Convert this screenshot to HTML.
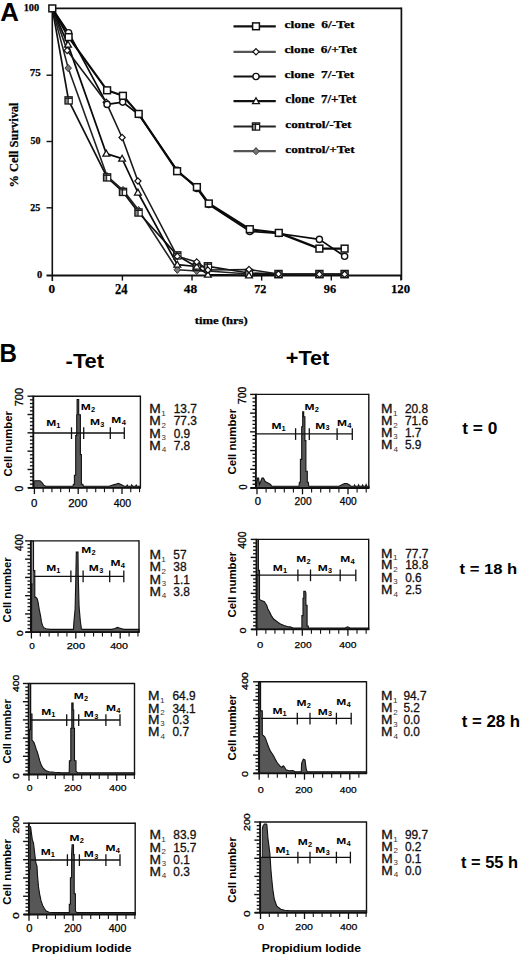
<!DOCTYPE html>
<html><head><meta charset="utf-8"><style>
html,body{margin:0;padding:0;background:#fff;width:520px;height:958px;overflow:hidden}
svg{display:block}
</style></head><body>
<svg width="520" height="958" viewBox="0 0 520 958">
<rect width="520" height="958" fill="#fff"/>
<g stroke="#111" fill="none" stroke-linecap="butt">
<line x1="52.3" y1="8.4" x2="401.4" y2="8.4" stroke-width="1.6"/>
<line x1="401.4" y1="7.6" x2="401.4" y2="280" stroke-width="1.7"/>
<line x1="52.3" y1="8" x2="52.3" y2="281" stroke-width="1.6"/>
<line x1="46.5" y1="275.5" x2="402" y2="275.5" stroke-width="2.2"/>
<line x1="46.5" y1="75.2" x2="52.3" y2="75.2" stroke-width="1.4"/>
<line x1="46.5" y1="141.5" x2="52.3" y2="141.5" stroke-width="1.4"/>
<line x1="46.5" y1="207.8" x2="52.3" y2="207.8" stroke-width="1.4"/>
<line x1="122.40" y1="275.5" x2="122.40" y2="280.6" stroke-width="1.4"/>
<line x1="192.03" y1="275.5" x2="192.03" y2="280.6" stroke-width="1.4"/>
<line x1="261.66" y1="275.5" x2="261.66" y2="280.6" stroke-width="1.4"/>
<line x1="331.29" y1="275.5" x2="331.29" y2="280.6" stroke-width="1.4"/>
<line x1="400.92" y1="275.5" x2="400.92" y2="280.6" stroke-width="1.4"/>
</g>
<text x="0.35" y="21.40" font-family="Liberation Sans" font-weight="bold" font-size="26.33" textLength="18.65" lengthAdjust="spacingAndGlyphs" fill="#000">A</text>
<g stroke="#000" stroke-width="0.25">
<text x="23.67" y="10.60" font-family="Liberation Serif" font-weight="bold" font-size="10.30" textLength="15.52" lengthAdjust="spacingAndGlyphs" fill="#000">100</text>
<text x="29.76" y="76.39" font-family="Liberation Serif" font-weight="bold" font-size="11.13" textLength="11.05" lengthAdjust="spacingAndGlyphs" fill="#000">75</text>
<text x="30.40" y="144.49" font-family="Liberation Serif" font-weight="bold" font-size="10.52" textLength="9.97" lengthAdjust="spacingAndGlyphs" fill="#000">50</text>
<text x="30.38" y="210.70" font-family="Liberation Serif" font-weight="bold" font-size="9.81" textLength="10.00" lengthAdjust="spacingAndGlyphs" fill="#000">25</text>
<text x="37.11" y="277.59" font-family="Liberation Serif" font-weight="bold" font-size="10.67" textLength="5.18" lengthAdjust="spacingAndGlyphs" fill="#000">0</text>
<text x="48.51" y="293.47" font-family="Liberation Serif" font-weight="bold" font-size="12.74" textLength="6.59" lengthAdjust="spacingAndGlyphs" fill="#000">0</text>
<text x="114.97" y="293.60" font-family="Liberation Serif" font-weight="bold" font-size="13.58" textLength="12.55" lengthAdjust="spacingAndGlyphs" fill="#000">24</text>
<text x="183.83" y="293.47" font-family="Liberation Serif" font-weight="bold" font-size="13.33" textLength="13.30" lengthAdjust="spacingAndGlyphs" fill="#000">48</text>
<text x="254.20" y="292.90" font-family="Liberation Serif" font-weight="bold" font-size="12.53" textLength="12.22" lengthAdjust="spacingAndGlyphs" fill="#000">72</text>
<text x="323.86" y="293.17" font-family="Liberation Serif" font-weight="bold" font-size="12.94" textLength="12.31" lengthAdjust="spacingAndGlyphs" fill="#000">96</text>
<text x="390.88" y="292.57" font-family="Liberation Serif" font-weight="bold" font-size="13.19" textLength="19.20" lengthAdjust="spacingAndGlyphs" fill="#000">120</text>
<text transform="translate(18.13,187.48) rotate(-90)" x="0" y="0" font-family="Liberation Serif" font-weight="bold" font-size="13.43" textLength="85.01" lengthAdjust="spacingAndGlyphs" fill="#000">% Cell Survival</text>
<text x="194.81" y="323.94" font-family="Liberation Serif" font-weight="bold" font-size="9.70" textLength="52.93" lengthAdjust="spacingAndGlyphs" fill="#000">time (hrs)</text>
</g>
<line x1="233.5" y1="26.3" x2="275.8" y2="26.3" stroke="#111" stroke-width="2.2"/>
<rect x="252.60" y="22.90" width="6.80" height="6.80" fill="#fff" stroke="#111" stroke-width="1.5"/>
<text x="284.43" y="28.39" font-family="Liberation Serif" font-weight="bold" font-size="10.92" textLength="70.20" lengthAdjust="spacingAndGlyphs" fill="#000" stroke="#000" stroke-width="0.25">clone  6/-Tet</text>
<line x1="233.5" y1="51.8" x2="275.8" y2="51.8" stroke="#555" stroke-width="2.2"/>
<path d="M256.0,48.699999999999996 L259.1,51.8 L256.0,54.9 L252.9,51.8 Z" fill="#fff" stroke="#111" stroke-width="1.2"/>
<text x="284.43" y="53.39" font-family="Liberation Serif" font-weight="bold" font-size="10.92" textLength="72.52" lengthAdjust="spacingAndGlyphs" fill="#000" stroke="#000" stroke-width="0.25">clone  6/+Tet</text>
<line x1="233.5" y1="76.5" x2="275.8" y2="76.5" stroke="#111" stroke-width="2.2"/>
<circle cx="256.0" cy="76.5" r="3.1" fill="#fff" stroke="#111" stroke-width="1.4"/>
<text x="284.43" y="78.39" font-family="Liberation Serif" font-weight="bold" font-size="11.35" textLength="69.80" lengthAdjust="spacingAndGlyphs" fill="#000" stroke="#000" stroke-width="0.25">clone  7/-Tet</text>
<line x1="233.5" y1="101.1" x2="275.8" y2="101.1" stroke="#111" stroke-width="2.2"/>
<path d="M256.0,97.69999999999999 L259.4,103.64999999999999 L252.6,103.64999999999999 Z" fill="#fff" stroke="#111" stroke-width="1.3"/>
<text x="285.34" y="103.39" font-family="Liberation Serif" font-weight="bold" font-size="11.49" textLength="70.91" lengthAdjust="spacingAndGlyphs" fill="#000" stroke="#000" stroke-width="0.25">clone  7/+Tet</text>
<line x1="233.5" y1="126.5" x2="275.8" y2="126.5" stroke="#222" stroke-width="2.2"/>
<rect x="252.40" y="122.90" width="7.20" height="7.20" fill="#8a8a8a" stroke="#1a1a1a" stroke-width="1.3"/><rect x="255.80" y="124.90" width="3.2" height="4.4" fill="#fff"/><path d="M252.40,124.50 H259.60 M255.60,122.90 V130.10" stroke="#1a1a1a" stroke-width="1.0" fill="none"/>
<text x="285.34" y="128.40" font-family="Liberation Serif" font-weight="bold" font-size="10.50" textLength="66.19" lengthAdjust="spacingAndGlyphs" fill="#000" stroke="#000" stroke-width="0.25">control/-Tet</text>
<line x1="233.5" y1="151.2" x2="275.8" y2="151.2" stroke="#555" stroke-width="2.2"/>
<path d="M256.0,147.6 L259.24,151.2 L256.0,154.79999999999998 L252.76,151.2 Z" fill="#777" stroke="#333" stroke-width="1.0"/>
<text x="285.34" y="152.99" font-family="Liberation Serif" font-weight="bold" font-size="10.92" textLength="69.32" lengthAdjust="spacingAndGlyphs" fill="#000" stroke="#000" stroke-width="0.25">control/+Tet</text>
<polyline points="52.3,8.4 68.2,68.1 107.0,176.0 123.0,190.0 138.6,210.0 177.3,269.8 196.7,271.0 207.9,271.0 249.0,274.0 278.5,274.5 319.4,274.5 344.6,274.5" fill="none" stroke="#222" stroke-width="1.6" stroke-linejoin="round"/>
<polyline points="52.3,8.4 68.6,100.4 107.1,177.4 123.0,191.9 138.5,212.5 177.3,255.4 196.7,267.0 207.9,266.3 249.0,273.0 278.5,274.0 319.4,274.0 344.6,274.0" fill="none" stroke="#111" stroke-width="1.7" stroke-linejoin="round"/>
<polyline points="52.3,8.4 68.0,44.6 106.3,153.6 122.1,158.6 137.9,192.5 177.3,264.6 196.7,266.5 207.9,274.6 249.0,275.4 278.5,275.0 319.4,275.0 344.6,275.0" fill="none" stroke="#0a0a0a" stroke-width="1.7" stroke-linejoin="round"/>
<polyline points="52.3,8.4 68.6,32.7 107.1,104.4 122.7,102.1 138.7,114.5 177.1,170.2 196.9,188.5 208.8,204.5 249.8,231.4 278.8,233.5 319.4,239.4 344.6,256.3" fill="none" stroke="#0a0a0a" stroke-width="1.7" stroke-linejoin="round"/>
<polyline points="52.3,8.4 67.2,50.5 106.2,102.3 122.1,137.5 137.9,181.0 177.3,256.3 196.7,261.9 207.9,270.0 249.0,269.5 278.5,274.0 319.4,274.3 344.6,274.3" fill="none" stroke="#1a1a1a" stroke-width="1.6" stroke-linejoin="round"/>
<polyline points="52.3,8.4 68.6,37.1 107.1,90.3 122.9,95.8 138.7,113.9 177.1,171.2 196.9,187.1 208.8,203.5 249.8,229.2 278.8,232.9 319.4,248.6 344.6,248.6" fill="none" stroke="#0a0a0a" stroke-width="2.2" stroke-linejoin="round"/>
<path d="M68.2,64.5 L71.44,68.1 L68.2,71.69999999999999 L64.96000000000001,68.1 Z" fill="#777" stroke="#333" stroke-width="1.0"/>
<path d="M107.0,172.4 L110.24,176.0 L107.0,179.6 L103.76,176.0 Z" fill="#777" stroke="#333" stroke-width="1.0"/>
<path d="M123.0,186.4 L126.24,190.0 L123.0,193.6 L119.76,190.0 Z" fill="#777" stroke="#333" stroke-width="1.0"/>
<path d="M138.6,206.4 L141.84,210.0 L138.6,213.6 L135.35999999999999,210.0 Z" fill="#777" stroke="#333" stroke-width="1.0"/>
<path d="M177.3,266.2 L180.54000000000002,269.8 L177.3,273.40000000000003 L174.06,269.8 Z" fill="#777" stroke="#333" stroke-width="1.0"/>
<path d="M196.7,267.4 L199.94,271.0 L196.7,274.6 L193.45999999999998,271.0 Z" fill="#777" stroke="#333" stroke-width="1.0"/>
<path d="M207.9,267.4 L211.14000000000001,271.0 L207.9,274.6 L204.66,271.0 Z" fill="#777" stroke="#333" stroke-width="1.0"/>
<path d="M249.0,270.4 L252.24,274.0 L249.0,277.6 L245.76,274.0 Z" fill="#777" stroke="#333" stroke-width="1.0"/>
<path d="M278.5,270.9 L281.74,274.5 L278.5,278.1 L275.26,274.5 Z" fill="#777" stroke="#333" stroke-width="1.0"/>
<path d="M319.4,270.9 L322.64,274.5 L319.4,278.1 L316.15999999999997,274.5 Z" fill="#777" stroke="#333" stroke-width="1.0"/>
<path d="M344.6,270.9 L347.84000000000003,274.5 L344.6,278.1 L341.36,274.5 Z" fill="#777" stroke="#333" stroke-width="1.0"/>
<rect x="65.00" y="96.80" width="7.20" height="7.20" fill="#8a8a8a" stroke="#1a1a1a" stroke-width="1.3"/><rect x="68.40" y="98.80" width="3.2" height="4.4" fill="#fff"/><path d="M65.00,98.40 H72.20 M68.20,96.80 V104.00" stroke="#1a1a1a" stroke-width="1.0" fill="none"/>
<rect x="103.50" y="173.80" width="7.20" height="7.20" fill="#8a8a8a" stroke="#1a1a1a" stroke-width="1.3"/><rect x="106.90" y="175.80" width="3.2" height="4.4" fill="#fff"/><path d="M103.50,175.40 H110.70 M106.70,173.80 V181.00" stroke="#1a1a1a" stroke-width="1.0" fill="none"/>
<rect x="119.40" y="188.30" width="7.20" height="7.20" fill="#8a8a8a" stroke="#1a1a1a" stroke-width="1.3"/><rect x="122.80" y="190.30" width="3.2" height="4.4" fill="#fff"/><path d="M119.40,189.90 H126.60 M122.60,188.30 V195.50" stroke="#1a1a1a" stroke-width="1.0" fill="none"/>
<rect x="134.90" y="208.90" width="7.20" height="7.20" fill="#8a8a8a" stroke="#1a1a1a" stroke-width="1.3"/><rect x="138.30" y="210.90" width="3.2" height="4.4" fill="#fff"/><path d="M134.90,210.50 H142.10 M138.10,208.90 V216.10" stroke="#1a1a1a" stroke-width="1.0" fill="none"/>
<rect x="173.70" y="251.80" width="7.20" height="7.20" fill="#8a8a8a" stroke="#1a1a1a" stroke-width="1.3"/><rect x="177.10" y="253.80" width="3.2" height="4.4" fill="#fff"/><path d="M173.70,253.40 H180.90 M176.90,251.80 V259.00" stroke="#1a1a1a" stroke-width="1.0" fill="none"/>
<rect x="193.10" y="263.40" width="7.20" height="7.20" fill="#8a8a8a" stroke="#1a1a1a" stroke-width="1.3"/><rect x="196.50" y="265.40" width="3.2" height="4.4" fill="#fff"/><path d="M193.10,265.00 H200.30 M196.30,263.40 V270.60" stroke="#1a1a1a" stroke-width="1.0" fill="none"/>
<rect x="204.30" y="262.70" width="7.20" height="7.20" fill="#8a8a8a" stroke="#1a1a1a" stroke-width="1.3"/><rect x="207.70" y="264.70" width="3.2" height="4.4" fill="#fff"/><path d="M204.30,264.30 H211.50 M207.50,262.70 V269.90" stroke="#1a1a1a" stroke-width="1.0" fill="none"/>
<rect x="245.40" y="269.40" width="7.20" height="7.20" fill="#8a8a8a" stroke="#1a1a1a" stroke-width="1.3"/><rect x="248.80" y="271.40" width="3.2" height="4.4" fill="#fff"/><path d="M245.40,271.00 H252.60 M248.60,269.40 V276.60" stroke="#1a1a1a" stroke-width="1.0" fill="none"/>
<rect x="274.90" y="270.40" width="7.20" height="7.20" fill="#8a8a8a" stroke="#1a1a1a" stroke-width="1.3"/><rect x="278.30" y="272.40" width="3.2" height="4.4" fill="#fff"/><path d="M274.90,272.00 H282.10 M278.10,270.40 V277.60" stroke="#1a1a1a" stroke-width="1.0" fill="none"/>
<rect x="315.80" y="270.40" width="7.20" height="7.20" fill="#8a8a8a" stroke="#1a1a1a" stroke-width="1.3"/><rect x="319.20" y="272.40" width="3.2" height="4.4" fill="#fff"/><path d="M315.80,272.00 H323.00 M319.00,270.40 V277.60" stroke="#1a1a1a" stroke-width="1.0" fill="none"/>
<rect x="341.00" y="270.40" width="7.20" height="7.20" fill="#8a8a8a" stroke="#1a1a1a" stroke-width="1.3"/><rect x="344.40" y="272.40" width="3.2" height="4.4" fill="#fff"/><path d="M341.00,272.00 H348.20 M344.20,270.40 V277.60" stroke="#1a1a1a" stroke-width="1.0" fill="none"/>
<path d="M68.0,41.2 L71.4,47.15 L64.6,47.15 Z" fill="#fff" stroke="#111" stroke-width="1.3"/>
<path d="M106.3,150.2 L109.7,156.15 L102.89999999999999,156.15 Z" fill="#fff" stroke="#111" stroke-width="1.3"/>
<path d="M122.1,155.2 L125.5,161.15 L118.69999999999999,161.15 Z" fill="#fff" stroke="#111" stroke-width="1.3"/>
<path d="M137.9,189.1 L141.3,195.05 L134.5,195.05 Z" fill="#fff" stroke="#111" stroke-width="1.3"/>
<path d="M177.3,261.20000000000005 L180.70000000000002,267.15000000000003 L173.9,267.15000000000003 Z" fill="#fff" stroke="#111" stroke-width="1.3"/>
<path d="M196.7,263.1 L200.1,269.05 L193.29999999999998,269.05 Z" fill="#fff" stroke="#111" stroke-width="1.3"/>
<path d="M207.9,271.20000000000005 L211.3,277.15000000000003 L204.5,277.15000000000003 Z" fill="#fff" stroke="#111" stroke-width="1.3"/>
<path d="M249.0,272.0 L252.4,277.95 L245.6,277.95 Z" fill="#fff" stroke="#111" stroke-width="1.3"/>
<path d="M278.5,271.6 L281.9,277.55 L275.1,277.55 Z" fill="#fff" stroke="#111" stroke-width="1.3"/>
<path d="M319.4,271.6 L322.79999999999995,277.55 L316.0,277.55 Z" fill="#fff" stroke="#111" stroke-width="1.3"/>
<path d="M344.6,271.6 L348.0,277.55 L341.20000000000005,277.55 Z" fill="#fff" stroke="#111" stroke-width="1.3"/>
<path d="M67.2,47.4 L70.3,50.5 L67.2,53.6 L64.10000000000001,50.5 Z" fill="#fff" stroke="#111" stroke-width="1.2"/>
<path d="M106.2,99.2 L109.3,102.3 L106.2,105.39999999999999 L103.10000000000001,102.3 Z" fill="#fff" stroke="#111" stroke-width="1.2"/>
<path d="M122.1,134.4 L125.19999999999999,137.5 L122.1,140.6 L119.0,137.5 Z" fill="#fff" stroke="#111" stroke-width="1.2"/>
<path d="M137.9,177.9 L141.0,181.0 L137.9,184.1 L134.8,181.0 Z" fill="#fff" stroke="#111" stroke-width="1.2"/>
<path d="M177.3,253.20000000000002 L180.4,256.3 L177.3,259.40000000000003 L174.20000000000002,256.3 Z" fill="#fff" stroke="#111" stroke-width="1.2"/>
<path d="M196.7,258.79999999999995 L199.79999999999998,261.9 L196.7,265.0 L193.6,261.9 Z" fill="#fff" stroke="#111" stroke-width="1.2"/>
<path d="M207.9,266.9 L211.0,270.0 L207.9,273.1 L204.8,270.0 Z" fill="#fff" stroke="#111" stroke-width="1.2"/>
<path d="M249.0,266.4 L252.1,269.5 L249.0,272.6 L245.9,269.5 Z" fill="#fff" stroke="#111" stroke-width="1.2"/>
<path d="M278.5,270.9 L281.6,274.0 L278.5,277.1 L275.4,274.0 Z" fill="#fff" stroke="#111" stroke-width="1.2"/>
<path d="M319.4,271.2 L322.5,274.3 L319.4,277.40000000000003 L316.29999999999995,274.3 Z" fill="#fff" stroke="#111" stroke-width="1.2"/>
<path d="M344.6,271.2 L347.70000000000005,274.3 L344.6,277.40000000000003 L341.5,274.3 Z" fill="#fff" stroke="#111" stroke-width="1.2"/>
<circle cx="68.6" cy="32.7" r="3.1" fill="#fff" stroke="#111" stroke-width="1.4"/>
<circle cx="107.1" cy="104.4" r="3.1" fill="#fff" stroke="#111" stroke-width="1.4"/>
<circle cx="122.7" cy="102.1" r="3.1" fill="#fff" stroke="#111" stroke-width="1.4"/>
<circle cx="138.7" cy="114.5" r="3.1" fill="#fff" stroke="#111" stroke-width="1.4"/>
<circle cx="177.1" cy="170.2" r="3.1" fill="#fff" stroke="#111" stroke-width="1.4"/>
<circle cx="196.9" cy="188.5" r="3.1" fill="#fff" stroke="#111" stroke-width="1.4"/>
<circle cx="208.8" cy="204.5" r="3.1" fill="#fff" stroke="#111" stroke-width="1.4"/>
<circle cx="249.8" cy="231.4" r="3.1" fill="#fff" stroke="#111" stroke-width="1.4"/>
<circle cx="278.8" cy="233.5" r="3.1" fill="#fff" stroke="#111" stroke-width="1.4"/>
<circle cx="319.4" cy="239.4" r="3.1" fill="#fff" stroke="#111" stroke-width="1.4"/>
<circle cx="344.6" cy="256.3" r="3.1" fill="#fff" stroke="#111" stroke-width="1.4"/>
<rect x="65.20" y="33.70" width="6.80" height="6.80" fill="#fff" stroke="#111" stroke-width="1.5"/>
<rect x="103.70" y="86.90" width="6.80" height="6.80" fill="#fff" stroke="#111" stroke-width="1.5"/>
<rect x="119.50" y="92.40" width="6.80" height="6.80" fill="#fff" stroke="#111" stroke-width="1.5"/>
<rect x="135.30" y="110.50" width="6.80" height="6.80" fill="#fff" stroke="#111" stroke-width="1.5"/>
<rect x="173.70" y="167.80" width="6.80" height="6.80" fill="#fff" stroke="#111" stroke-width="1.5"/>
<rect x="193.50" y="183.70" width="6.80" height="6.80" fill="#fff" stroke="#111" stroke-width="1.5"/>
<rect x="205.40" y="200.10" width="6.80" height="6.80" fill="#fff" stroke="#111" stroke-width="1.5"/>
<rect x="246.40" y="225.80" width="6.80" height="6.80" fill="#fff" stroke="#111" stroke-width="1.5"/>
<rect x="275.40" y="229.50" width="6.80" height="6.80" fill="#fff" stroke="#111" stroke-width="1.5"/>
<rect x="316.00" y="245.20" width="6.80" height="6.80" fill="#fff" stroke="#111" stroke-width="1.5"/>
<rect x="341.20" y="245.20" width="6.80" height="6.80" fill="#fff" stroke="#111" stroke-width="1.5"/>
<rect x="48.90" y="5.00" width="6.80" height="6.80" fill="#fff" stroke="#111" stroke-width="1.5"/>
<text x="-0.48" y="361.50" font-family="Liberation Sans" font-weight="bold" font-size="25.82" textLength="17.46" lengthAdjust="spacingAndGlyphs" fill="#000">B</text>
<text x="65.63" y="367.69" font-family="Liberation Sans" font-weight="bold" font-size="21.08" textLength="38.43" lengthAdjust="spacingAndGlyphs" fill="#000">-Tet</text>
<text x="285.78" y="365.19" font-family="Liberation Sans" font-weight="bold" font-size="20.65" textLength="43.49" lengthAdjust="spacingAndGlyphs" fill="#000">+Tet</text>
<text x="462.18" y="434.33" font-family="Liberation Sans" font-weight="bold" font-size="16.54" textLength="35.13" lengthAdjust="spacingAndGlyphs" fill="#000">t = 0</text>
<text x="459.49" y="574.06" font-family="Liberation Sans" font-weight="bold" font-size="14.01" textLength="57.73" lengthAdjust="spacingAndGlyphs" fill="#000">t = 18 h</text>
<text x="461.69" y="727.44" font-family="Liberation Sans" font-weight="bold" font-size="15.78" textLength="58.34" lengthAdjust="spacingAndGlyphs" fill="#000">t = 28 h</text>
<text x="461.00" y="868.23" font-family="Liberation Sans" font-weight="bold" font-size="16.60" textLength="56.91" lengthAdjust="spacingAndGlyphs" fill="#000">t = 55 h</text>
<text x="31.67" y="952.22" font-family="Liberation Sans" font-weight="bold" font-size="10.99" textLength="100.00" lengthAdjust="spacingAndGlyphs" fill="#000">Propidium Iodide</text>
<text x="261.68" y="952.11" font-family="Liberation Sans" font-weight="bold" font-size="11.53" textLength="99.24" lengthAdjust="spacingAndGlyphs" fill="#000">Propidium Iodide</text>
<polygon points="33.8,487.8 33.8,481.5 35.0,480.7 40.0,480.7 42.0,482.5 44.0,485.5 46.0,486.2 73.0,486.2 73.4,484.2 74.4,484.2 74.4,475.3 75.7,475.3 75.7,435.6 76.7,435.6 76.7,414.8 77.1,414.8 77.1,399.5 78.7,399.5 78.7,414.8 80.4,414.8 80.4,454.5 81.4,454.5 81.4,484.2 82.8,484.2 83.5,486.2 109.2,486.2 112.0,485.2 115.0,484.4 118.4,483.3 121.0,484.5 124.2,486.2 126.5,486.2 127.2,485.0 128.0,486.2 131.0,486.2 131.7,484.8 132.5,486.2 135.5,486.2 136.2,485.0 137.0,486.2 140.4,486.2 140.4,487.8" fill="#575757" stroke="#111" stroke-width="1.1" stroke-linejoin="miter"/>
<g stroke="#111" fill="none">
<line x1="33.3" y1="396.2" x2="140.4" y2="396.2" stroke-width="1.4"/>
<line x1="140.4" y1="395.59999999999997" x2="140.4" y2="487.8" stroke-width="1.4"/>
<line x1="33.3" y1="395.59999999999997" x2="33.3" y2="488.6" stroke-width="1.9"/>
<line x1="27.999999999999996" y1="487.8" x2="141.0" y2="487.8" stroke-width="1.8"/>
<line x1="27.499999999999996" y1="487.80" x2="33.3" y2="487.80" stroke-width="1.4"/>
<line x1="29.9" y1="484.14" x2="33.3" y2="484.14" stroke-width="1.35"/>
<line x1="29.9" y1="480.47" x2="33.3" y2="480.47" stroke-width="1.35"/>
<line x1="29.9" y1="476.81" x2="33.3" y2="476.81" stroke-width="1.35"/>
<line x1="29.9" y1="473.14" x2="33.3" y2="473.14" stroke-width="1.35"/>
<line x1="27.499999999999996" y1="469.48" x2="33.3" y2="469.48" stroke-width="1.4"/>
<line x1="29.9" y1="465.82" x2="33.3" y2="465.82" stroke-width="1.35"/>
<line x1="29.9" y1="462.15" x2="33.3" y2="462.15" stroke-width="1.35"/>
<line x1="29.9" y1="458.49" x2="33.3" y2="458.49" stroke-width="1.35"/>
<line x1="29.9" y1="454.82" x2="33.3" y2="454.82" stroke-width="1.35"/>
<line x1="27.499999999999996" y1="451.16" x2="33.3" y2="451.16" stroke-width="1.4"/>
<line x1="29.9" y1="447.50" x2="33.3" y2="447.50" stroke-width="1.35"/>
<line x1="29.9" y1="443.83" x2="33.3" y2="443.83" stroke-width="1.35"/>
<line x1="29.9" y1="440.17" x2="33.3" y2="440.17" stroke-width="1.35"/>
<line x1="29.9" y1="436.50" x2="33.3" y2="436.50" stroke-width="1.35"/>
<line x1="27.499999999999996" y1="432.84" x2="33.3" y2="432.84" stroke-width="1.4"/>
<line x1="29.9" y1="429.18" x2="33.3" y2="429.18" stroke-width="1.35"/>
<line x1="29.9" y1="425.51" x2="33.3" y2="425.51" stroke-width="1.35"/>
<line x1="29.9" y1="421.85" x2="33.3" y2="421.85" stroke-width="1.35"/>
<line x1="29.9" y1="418.18" x2="33.3" y2="418.18" stroke-width="1.35"/>
<line x1="27.499999999999996" y1="414.52" x2="33.3" y2="414.52" stroke-width="1.4"/>
<line x1="29.9" y1="410.86" x2="33.3" y2="410.86" stroke-width="1.35"/>
<line x1="29.9" y1="407.19" x2="33.3" y2="407.19" stroke-width="1.35"/>
<line x1="29.9" y1="403.53" x2="33.3" y2="403.53" stroke-width="1.35"/>
<line x1="29.9" y1="399.86" x2="33.3" y2="399.86" stroke-width="1.35"/>
<line x1="27.499999999999996" y1="396.20" x2="33.3" y2="396.20" stroke-width="1.4"/>
<line x1="34.40" y1="487.8" x2="34.40" y2="494.1" stroke-width="1.3"/>
<line x1="43.16" y1="487.8" x2="43.16" y2="492.2" stroke-width="1.1"/>
<line x1="51.92" y1="487.8" x2="51.92" y2="492.2" stroke-width="1.1"/>
<line x1="60.68" y1="487.8" x2="60.68" y2="492.2" stroke-width="1.1"/>
<line x1="69.44" y1="487.8" x2="69.44" y2="492.2" stroke-width="1.1"/>
<line x1="78.20" y1="487.8" x2="78.20" y2="494.1" stroke-width="1.3"/>
<line x1="86.96" y1="487.8" x2="86.96" y2="492.2" stroke-width="1.1"/>
<line x1="95.72" y1="487.8" x2="95.72" y2="492.2" stroke-width="1.1"/>
<line x1="104.48" y1="487.8" x2="104.48" y2="492.2" stroke-width="1.1"/>
<line x1="113.24" y1="487.8" x2="113.24" y2="492.2" stroke-width="1.1"/>
<line x1="122.00" y1="487.8" x2="122.00" y2="494.1" stroke-width="1.3"/>
<line x1="130.76" y1="487.8" x2="130.76" y2="492.2" stroke-width="1.1"/>
<line x1="139.52" y1="487.8" x2="139.52" y2="492.2" stroke-width="1.1"/>
<line x1="33.3" y1="433.0" x2="124.3" y2="433.0" stroke-width="1.3"/>
<line x1="71.5" y1="427.3" x2="71.5" y2="439.0" stroke-width="1.3"/>
<line x1="83.7" y1="427.3" x2="83.7" y2="439.0" stroke-width="1.3"/>
<line x1="110.3" y1="427.3" x2="110.3" y2="439.0" stroke-width="1.3"/>
<line x1="124.3" y1="427.3" x2="124.3" y2="439.0" stroke-width="1.3"/>
</g>
<text x="46.19" y="426.40" font-family="Liberation Sans" font-weight="bold" font-size="9.75" textLength="10.00" lengthAdjust="spacingAndGlyphs" fill="#000">M</text><text x="56.23" y="428.40" font-family="Liberation Sans" font-weight="bold" font-size="6.84" textLength="4.18" lengthAdjust="spacingAndGlyphs" fill="#000">1</text>
<text x="80.69" y="410.20" font-family="Liberation Sans" font-weight="bold" font-size="9.75" textLength="10.00" lengthAdjust="spacingAndGlyphs" fill="#000">M</text><text x="90.94" y="412.20" font-family="Liberation Sans" font-weight="bold" font-size="6.74" textLength="4.12" lengthAdjust="spacingAndGlyphs" fill="#000">2</text>
<text x="89.99" y="425.40" font-family="Liberation Sans" font-weight="bold" font-size="9.75" textLength="10.00" lengthAdjust="spacingAndGlyphs" fill="#000">M</text><text x="100.34" y="427.32" font-family="Liberation Sans" font-weight="bold" font-size="6.62" textLength="4.05" lengthAdjust="spacingAndGlyphs" fill="#000">3</text>
<text x="111.29" y="422.70" font-family="Liberation Sans" font-weight="bold" font-size="9.75" textLength="10.00" lengthAdjust="spacingAndGlyphs" fill="#000">M</text><text x="121.69" y="424.70" font-family="Liberation Sans" font-weight="bold" font-size="6.84" textLength="4.18" lengthAdjust="spacingAndGlyphs" fill="#000">4</text>
<text transform="translate(11.59,476.55) rotate(-90)" x="0" y="0" font-family="Liberation Sans" font-weight="bold" font-size="10.75" textLength="65.41" lengthAdjust="spacingAndGlyphs" fill="#000">Cell number</text>
<text stroke="#000" stroke-width="0.3" transform="translate(22.59,406.25) rotate(-90)" x="0" y="0" font-family="Liberation Sans" font-weight="normal" font-size="10.74" textLength="18.27" lengthAdjust="spacingAndGlyphs" fill="#000">700</text>
<text stroke="#000" stroke-width="0.3" transform="translate(22.60,491.42) rotate(-90)" x="0" y="0" font-family="Liberation Sans" font-weight="normal" font-size="10.04" textLength="5.82" lengthAdjust="spacingAndGlyphs" fill="#000">0</text>
<text x="31.04" y="506.69" font-family="Liberation Sans" font-weight="normal" font-size="11.17" textLength="6.41" lengthAdjust="spacingAndGlyphs" fill="#000" stroke="#000" stroke-width="0.25">0</text>
<text x="68.23" y="506.69" font-family="Liberation Sans" font-weight="normal" font-size="11.17" textLength="19.11" lengthAdjust="spacingAndGlyphs" fill="#000" stroke="#000" stroke-width="0.25">200</text>
<text x="113.66" y="506.69" font-family="Liberation Sans" font-weight="normal" font-size="11.17" textLength="17.54" lengthAdjust="spacingAndGlyphs" fill="#000" stroke="#000" stroke-width="0.25">400</text>
<text x="149.36" y="413.20" font-family="Liberation Sans" font-weight="normal" font-size="12.65" textLength="11.48" lengthAdjust="spacingAndGlyphs" fill="#111" stroke="#111" stroke-width="0.3">M</text><text x="161.29" y="415.60" font-family="Liberation Sans" font-weight="normal" font-size="7.71" textLength="4.50" lengthAdjust="spacingAndGlyphs" fill="#333">1</text><text stroke="#111" stroke-width="0.3" x="173.70" y="413.20" font-family="Liberation Sans" font-weight="normal" font-size="11.90" text-anchor="start" fill="#111">13.7</text><text x="149.36" y="425.30" font-family="Liberation Sans" font-weight="normal" font-size="12.65" textLength="11.48" lengthAdjust="spacingAndGlyphs" fill="#111" stroke="#111" stroke-width="0.3">M</text><text x="161.50" y="427.70" font-family="Liberation Sans" font-weight="normal" font-size="7.60" textLength="4.44" lengthAdjust="spacingAndGlyphs" fill="#333">2</text><text stroke="#111" stroke-width="0.3" x="173.70" y="425.30" font-family="Liberation Sans" font-weight="normal" font-size="11.90" text-anchor="start" fill="#111">77.3</text><text x="149.36" y="437.60" font-family="Liberation Sans" font-weight="normal" font-size="12.65" textLength="11.48" lengthAdjust="spacingAndGlyphs" fill="#111" stroke="#111" stroke-width="0.3">M</text><text x="161.61" y="439.93" font-family="Liberation Sans" font-weight="normal" font-size="7.49" textLength="4.37" lengthAdjust="spacingAndGlyphs" fill="#333">3</text><text stroke="#111" stroke-width="0.3" x="173.70" y="437.60" font-family="Liberation Sans" font-weight="normal" font-size="11.90" text-anchor="start" fill="#111">0.9</text><text x="149.36" y="449.50" font-family="Liberation Sans" font-weight="normal" font-size="12.65" textLength="11.48" lengthAdjust="spacingAndGlyphs" fill="#111" stroke="#111" stroke-width="0.3">M</text><text x="161.72" y="451.90" font-family="Liberation Sans" font-weight="normal" font-size="7.71" textLength="4.50" lengthAdjust="spacingAndGlyphs" fill="#333">4</text><text stroke="#111" stroke-width="0.3" x="173.70" y="449.50" font-family="Liberation Sans" font-weight="normal" font-size="11.90" text-anchor="start" fill="#111">7.8</text>
<polygon points="256.4,488.0 256.4,484.0 257.6,478.1 258.6,478.1 259.4,484.5 260.5,482.0 262.0,478.1 263.4,478.1 265.2,481.5 267.5,482.7 270.2,484.2 272.1,486.3 299.0,486.3 299.4,482.2 300.4,482.2 300.4,459.4 301.7,459.4 301.7,426.7 302.7,426.7 302.7,411.8 303.7,411.8 303.7,416.8 304.9,416.8 304.9,440.6 305.9,440.6 305.9,471.3 307.3,471.3 307.3,482.2 308.3,482.2 308.8,486.3 339.0,486.3 342.0,484.8 344.5,483.5 347.0,483.5 349.5,485.0 351.0,486.3 354.0,486.3 354.6,485.0 355.3,486.3 358.0,486.3 358.6,484.8 359.3,486.3 362.0,486.3 362.6,485.0 363.3,486.3 365.5,486.3 366.1,484.6 366.8,486.3 368.8,486.3 368.8,488.2" fill="#575757" stroke="#111" stroke-width="1.1" stroke-linejoin="miter"/>
<g stroke="#111" fill="none">
<line x1="255.9" y1="394.4" x2="368.8" y2="394.4" stroke-width="1.4"/>
<line x1="368.8" y1="393.79999999999995" x2="368.8" y2="488.0" stroke-width="1.4"/>
<line x1="255.9" y1="393.79999999999995" x2="255.9" y2="488.8" stroke-width="1.9"/>
<line x1="250.6" y1="488.0" x2="369.40000000000003" y2="488.0" stroke-width="1.8"/>
<line x1="250.1" y1="488.00" x2="255.9" y2="488.00" stroke-width="1.4"/>
<line x1="252.5" y1="484.26" x2="255.9" y2="484.26" stroke-width="1.35"/>
<line x1="252.5" y1="480.51" x2="255.9" y2="480.51" stroke-width="1.35"/>
<line x1="252.5" y1="476.77" x2="255.9" y2="476.77" stroke-width="1.35"/>
<line x1="252.5" y1="473.02" x2="255.9" y2="473.02" stroke-width="1.35"/>
<line x1="250.1" y1="469.28" x2="255.9" y2="469.28" stroke-width="1.4"/>
<line x1="252.5" y1="465.54" x2="255.9" y2="465.54" stroke-width="1.35"/>
<line x1="252.5" y1="461.79" x2="255.9" y2="461.79" stroke-width="1.35"/>
<line x1="252.5" y1="458.05" x2="255.9" y2="458.05" stroke-width="1.35"/>
<line x1="252.5" y1="454.30" x2="255.9" y2="454.30" stroke-width="1.35"/>
<line x1="250.1" y1="450.56" x2="255.9" y2="450.56" stroke-width="1.4"/>
<line x1="252.5" y1="446.82" x2="255.9" y2="446.82" stroke-width="1.35"/>
<line x1="252.5" y1="443.07" x2="255.9" y2="443.07" stroke-width="1.35"/>
<line x1="252.5" y1="439.33" x2="255.9" y2="439.33" stroke-width="1.35"/>
<line x1="252.5" y1="435.58" x2="255.9" y2="435.58" stroke-width="1.35"/>
<line x1="250.1" y1="431.84" x2="255.9" y2="431.84" stroke-width="1.4"/>
<line x1="252.5" y1="428.10" x2="255.9" y2="428.10" stroke-width="1.35"/>
<line x1="252.5" y1="424.35" x2="255.9" y2="424.35" stroke-width="1.35"/>
<line x1="252.5" y1="420.61" x2="255.9" y2="420.61" stroke-width="1.35"/>
<line x1="252.5" y1="416.86" x2="255.9" y2="416.86" stroke-width="1.35"/>
<line x1="250.1" y1="413.12" x2="255.9" y2="413.12" stroke-width="1.4"/>
<line x1="252.5" y1="409.38" x2="255.9" y2="409.38" stroke-width="1.35"/>
<line x1="252.5" y1="405.63" x2="255.9" y2="405.63" stroke-width="1.35"/>
<line x1="252.5" y1="401.89" x2="255.9" y2="401.89" stroke-width="1.35"/>
<line x1="252.5" y1="398.14" x2="255.9" y2="398.14" stroke-width="1.35"/>
<line x1="250.1" y1="394.40" x2="255.9" y2="394.40" stroke-width="1.4"/>
<line x1="257.00" y1="488.0" x2="257.00" y2="494.3" stroke-width="1.3"/>
<line x1="266.10" y1="488.0" x2="266.10" y2="492.4" stroke-width="1.1"/>
<line x1="275.20" y1="488.0" x2="275.20" y2="492.4" stroke-width="1.1"/>
<line x1="284.30" y1="488.0" x2="284.30" y2="492.4" stroke-width="1.1"/>
<line x1="293.40" y1="488.0" x2="293.40" y2="492.4" stroke-width="1.1"/>
<line x1="302.50" y1="488.0" x2="302.50" y2="494.3" stroke-width="1.3"/>
<line x1="311.60" y1="488.0" x2="311.60" y2="492.4" stroke-width="1.1"/>
<line x1="320.70" y1="488.0" x2="320.70" y2="492.4" stroke-width="1.1"/>
<line x1="329.80" y1="488.0" x2="329.80" y2="492.4" stroke-width="1.1"/>
<line x1="338.90" y1="488.0" x2="338.90" y2="492.4" stroke-width="1.1"/>
<line x1="348.00" y1="488.0" x2="348.00" y2="494.3" stroke-width="1.3"/>
<line x1="357.10" y1="488.0" x2="357.10" y2="492.4" stroke-width="1.1"/>
<line x1="366.20" y1="488.0" x2="366.20" y2="492.4" stroke-width="1.1"/>
<line x1="255.9" y1="433.9" x2="352.3" y2="433.9" stroke-width="1.3"/>
<line x1="295.6" y1="428.2" x2="295.6" y2="439.9" stroke-width="1.3"/>
<line x1="309.3" y1="428.2" x2="309.3" y2="439.9" stroke-width="1.3"/>
<line x1="337.1" y1="428.2" x2="337.1" y2="439.9" stroke-width="1.3"/>
<line x1="352.3" y1="428.2" x2="352.3" y2="439.9" stroke-width="1.3"/>
</g>
<text x="271.49" y="428.50" font-family="Liberation Sans" font-weight="bold" font-size="9.75" textLength="10.00" lengthAdjust="spacingAndGlyphs" fill="#000">M</text><text x="281.53" y="430.50" font-family="Liberation Sans" font-weight="bold" font-size="6.84" textLength="4.18" lengthAdjust="spacingAndGlyphs" fill="#000">1</text>
<text x="304.59" y="409.70" font-family="Liberation Sans" font-weight="bold" font-size="9.75" textLength="10.00" lengthAdjust="spacingAndGlyphs" fill="#000">M</text><text x="314.84" y="411.70" font-family="Liberation Sans" font-weight="bold" font-size="6.74" textLength="4.12" lengthAdjust="spacingAndGlyphs" fill="#000">2</text>
<text x="315.19" y="428.50" font-family="Liberation Sans" font-weight="bold" font-size="9.75" textLength="10.00" lengthAdjust="spacingAndGlyphs" fill="#000">M</text><text x="325.54" y="430.42" font-family="Liberation Sans" font-weight="bold" font-size="6.62" textLength="4.05" lengthAdjust="spacingAndGlyphs" fill="#000">3</text>
<text x="336.99" y="425.70" font-family="Liberation Sans" font-weight="bold" font-size="9.75" textLength="10.00" lengthAdjust="spacingAndGlyphs" fill="#000">M</text><text x="347.39" y="427.70" font-family="Liberation Sans" font-weight="bold" font-size="6.84" textLength="4.18" lengthAdjust="spacingAndGlyphs" fill="#000">4</text>
<text transform="translate(236.29,474.55) rotate(-90)" x="0" y="0" font-family="Liberation Sans" font-weight="bold" font-size="11.02" textLength="65.61" lengthAdjust="spacingAndGlyphs" fill="#000">Cell number</text>
<text stroke="#000" stroke-width="0.3" transform="translate(246.00,403.91) rotate(-90)" x="0" y="0" font-family="Liberation Sans" font-weight="normal" font-size="10.46" textLength="17.00" lengthAdjust="spacingAndGlyphs" fill="#000">700</text>
<text stroke="#000" stroke-width="0.3" transform="translate(247.40,489.56) rotate(-90)" x="0" y="0" font-family="Liberation Sans" font-weight="normal" font-size="10.18" textLength="5.01" lengthAdjust="spacingAndGlyphs" fill="#000">0</text>
<text x="254.65" y="505.40" font-family="Liberation Sans" font-weight="normal" font-size="10.04" textLength="6.29" lengthAdjust="spacingAndGlyphs" fill="#000" stroke="#000" stroke-width="0.25">0</text>
<text x="294.59" y="505.40" font-family="Liberation Sans" font-weight="normal" font-size="10.04" textLength="17.00" lengthAdjust="spacingAndGlyphs" fill="#000" stroke="#000" stroke-width="0.25">200</text>
<text x="339.77" y="505.40" font-family="Liberation Sans" font-weight="normal" font-size="10.04" textLength="16.92" lengthAdjust="spacingAndGlyphs" fill="#000" stroke="#000" stroke-width="0.25">400</text>
<text x="381.06" y="413.40" font-family="Liberation Sans" font-weight="normal" font-size="12.65" textLength="11.48" lengthAdjust="spacingAndGlyphs" fill="#111" stroke="#111" stroke-width="0.3">M</text><text x="392.99" y="415.80" font-family="Liberation Sans" font-weight="normal" font-size="7.71" textLength="4.50" lengthAdjust="spacingAndGlyphs" fill="#333">1</text><text stroke="#111" stroke-width="0.3" x="404.90" y="413.40" font-family="Liberation Sans" font-weight="normal" font-size="11.90" text-anchor="start" fill="#111">20.8</text><text x="381.06" y="425.30" font-family="Liberation Sans" font-weight="normal" font-size="12.65" textLength="11.48" lengthAdjust="spacingAndGlyphs" fill="#111" stroke="#111" stroke-width="0.3">M</text><text x="393.20" y="427.70" font-family="Liberation Sans" font-weight="normal" font-size="7.60" textLength="4.44" lengthAdjust="spacingAndGlyphs" fill="#333">2</text><text stroke="#111" stroke-width="0.3" x="404.90" y="425.30" font-family="Liberation Sans" font-weight="normal" font-size="11.90" text-anchor="start" fill="#111">71.6</text><text x="381.06" y="437.00" font-family="Liberation Sans" font-weight="normal" font-size="12.65" textLength="11.48" lengthAdjust="spacingAndGlyphs" fill="#111" stroke="#111" stroke-width="0.3">M</text><text x="393.31" y="439.33" font-family="Liberation Sans" font-weight="normal" font-size="7.49" textLength="4.37" lengthAdjust="spacingAndGlyphs" fill="#333">3</text><text stroke="#111" stroke-width="0.3" x="404.90" y="437.00" font-family="Liberation Sans" font-weight="normal" font-size="11.90" text-anchor="start" fill="#111">1.7</text><text x="381.06" y="449.10" font-family="Liberation Sans" font-weight="normal" font-size="12.65" textLength="11.48" lengthAdjust="spacingAndGlyphs" fill="#111" stroke="#111" stroke-width="0.3">M</text><text x="393.42" y="451.50" font-family="Liberation Sans" font-weight="normal" font-size="7.71" textLength="4.50" lengthAdjust="spacingAndGlyphs" fill="#333">4</text><text stroke="#111" stroke-width="0.3" x="404.90" y="449.10" font-family="Liberation Sans" font-weight="normal" font-size="11.90" text-anchor="start" fill="#111">5.9</text>
<polygon points="31.6,632.2 31.6,583.6 32.6,583.6 32.6,541.4 33.5,541.4 33.5,570.6 34.8,570.6 34.8,597.1 35.5,597.1 36.3,597.7 37.2,598.8 38.1,602.3 39.2,609.2 40.6,616.1 41.5,621.9 42.5,625.4 43.8,627.7 46.1,628.8 50.0,629.4 73.4,629.4 74.0,620.7 75.1,609.2 75.7,583.8 76.3,552.1 78.0,552.1 78.2,573.4 79.1,606.9 80.3,620.7 81.4,628.8 82.7,629.4 112.0,629.4 115.0,628.5 117.4,627.4 120.0,628.2 124.0,629.4 139.0,629.4 139.0,632.2" fill="#575757" stroke="#111" stroke-width="1.1" stroke-linejoin="miter"/>
<rect x="31.9" y="541.6" width="0.8" height="42" fill="#c8c8c8"/>
<g stroke="#111" fill="none">
<line x1="30.9" y1="540.9" x2="139.0" y2="540.9" stroke-width="1.4"/>
<line x1="139.0" y1="540.3" x2="139.0" y2="632.2" stroke-width="1.4"/>
<line x1="30.9" y1="540.3" x2="30.9" y2="633.0" stroke-width="1.9"/>
<line x1="25.599999999999998" y1="632.2" x2="139.6" y2="632.2" stroke-width="1.8"/>
<line x1="25.099999999999998" y1="632.20" x2="30.9" y2="632.20" stroke-width="1.4"/>
<line x1="27.5" y1="628.55" x2="30.9" y2="628.55" stroke-width="1.35"/>
<line x1="27.5" y1="624.90" x2="30.9" y2="624.90" stroke-width="1.35"/>
<line x1="27.5" y1="621.24" x2="30.9" y2="621.24" stroke-width="1.35"/>
<line x1="27.5" y1="617.59" x2="30.9" y2="617.59" stroke-width="1.35"/>
<line x1="25.099999999999998" y1="613.94" x2="30.9" y2="613.94" stroke-width="1.4"/>
<line x1="27.5" y1="610.29" x2="30.9" y2="610.29" stroke-width="1.35"/>
<line x1="27.5" y1="606.64" x2="30.9" y2="606.64" stroke-width="1.35"/>
<line x1="27.5" y1="602.98" x2="30.9" y2="602.98" stroke-width="1.35"/>
<line x1="27.5" y1="599.33" x2="30.9" y2="599.33" stroke-width="1.35"/>
<line x1="25.099999999999998" y1="595.68" x2="30.9" y2="595.68" stroke-width="1.4"/>
<line x1="27.5" y1="592.03" x2="30.9" y2="592.03" stroke-width="1.35"/>
<line x1="27.5" y1="588.38" x2="30.9" y2="588.38" stroke-width="1.35"/>
<line x1="27.5" y1="584.72" x2="30.9" y2="584.72" stroke-width="1.35"/>
<line x1="27.5" y1="581.07" x2="30.9" y2="581.07" stroke-width="1.35"/>
<line x1="25.099999999999998" y1="577.42" x2="30.9" y2="577.42" stroke-width="1.4"/>
<line x1="27.5" y1="573.77" x2="30.9" y2="573.77" stroke-width="1.35"/>
<line x1="27.5" y1="570.12" x2="30.9" y2="570.12" stroke-width="1.35"/>
<line x1="27.5" y1="566.46" x2="30.9" y2="566.46" stroke-width="1.35"/>
<line x1="27.5" y1="562.81" x2="30.9" y2="562.81" stroke-width="1.35"/>
<line x1="25.099999999999998" y1="559.16" x2="30.9" y2="559.16" stroke-width="1.4"/>
<line x1="27.5" y1="555.51" x2="30.9" y2="555.51" stroke-width="1.35"/>
<line x1="27.5" y1="551.86" x2="30.9" y2="551.86" stroke-width="1.35"/>
<line x1="27.5" y1="548.20" x2="30.9" y2="548.20" stroke-width="1.35"/>
<line x1="27.5" y1="544.55" x2="30.9" y2="544.55" stroke-width="1.35"/>
<line x1="25.099999999999998" y1="540.90" x2="30.9" y2="540.90" stroke-width="1.4"/>
<line x1="31.40" y1="632.2" x2="31.40" y2="638.5" stroke-width="1.3"/>
<line x1="40.28" y1="632.2" x2="40.28" y2="636.6" stroke-width="1.1"/>
<line x1="49.16" y1="632.2" x2="49.16" y2="636.6" stroke-width="1.1"/>
<line x1="58.04" y1="632.2" x2="58.04" y2="636.6" stroke-width="1.1"/>
<line x1="66.92" y1="632.2" x2="66.92" y2="636.6" stroke-width="1.1"/>
<line x1="75.80" y1="632.2" x2="75.80" y2="638.5" stroke-width="1.3"/>
<line x1="84.68" y1="632.2" x2="84.68" y2="636.6" stroke-width="1.1"/>
<line x1="93.56" y1="632.2" x2="93.56" y2="636.6" stroke-width="1.1"/>
<line x1="102.44" y1="632.2" x2="102.44" y2="636.6" stroke-width="1.1"/>
<line x1="111.32" y1="632.2" x2="111.32" y2="636.6" stroke-width="1.1"/>
<line x1="120.20" y1="632.2" x2="120.20" y2="638.5" stroke-width="1.3"/>
<line x1="129.08" y1="632.2" x2="129.08" y2="636.6" stroke-width="1.1"/>
<line x1="137.96" y1="632.2" x2="137.96" y2="636.6" stroke-width="1.1"/>
<line x1="34.0" y1="576.3" x2="123.8" y2="576.3" stroke-width="1.3"/>
<line x1="70.9" y1="570.5999999999999" x2="70.9" y2="582.3" stroke-width="1.3"/>
<line x1="83.1" y1="570.5999999999999" x2="83.1" y2="582.3" stroke-width="1.3"/>
<line x1="109.7" y1="570.5999999999999" x2="109.7" y2="582.3" stroke-width="1.3"/>
<line x1="123.8" y1="570.5999999999999" x2="123.8" y2="582.3" stroke-width="1.3"/>
</g>
<text x="46.29" y="571.40" font-family="Liberation Sans" font-weight="bold" font-size="9.75" textLength="10.00" lengthAdjust="spacingAndGlyphs" fill="#000">M</text><text x="56.33" y="573.40" font-family="Liberation Sans" font-weight="bold" font-size="6.84" textLength="4.18" lengthAdjust="spacingAndGlyphs" fill="#000">1</text>
<text x="81.19" y="553.30" font-family="Liberation Sans" font-weight="bold" font-size="9.75" textLength="10.00" lengthAdjust="spacingAndGlyphs" fill="#000">M</text><text x="91.44" y="555.30" font-family="Liberation Sans" font-weight="bold" font-size="6.74" textLength="4.12" lengthAdjust="spacingAndGlyphs" fill="#000">2</text>
<text x="88.89" y="570.60" font-family="Liberation Sans" font-weight="bold" font-size="9.75" textLength="10.00" lengthAdjust="spacingAndGlyphs" fill="#000">M</text><text x="99.24" y="572.52" font-family="Liberation Sans" font-weight="bold" font-size="6.62" textLength="4.05" lengthAdjust="spacingAndGlyphs" fill="#000">3</text>
<text x="110.49" y="566.30" font-family="Liberation Sans" font-weight="bold" font-size="9.75" textLength="10.00" lengthAdjust="spacingAndGlyphs" fill="#000">M</text><text x="120.89" y="568.30" font-family="Liberation Sans" font-weight="bold" font-size="6.84" textLength="4.18" lengthAdjust="spacingAndGlyphs" fill="#000">4</text>
<text transform="translate(11.38,622.45) rotate(-90)" x="0" y="0" font-family="Liberation Sans" font-weight="bold" font-size="11.70" textLength="65.01" lengthAdjust="spacingAndGlyphs" fill="#000">Cell number</text>
<text stroke="#000" stroke-width="0.3" transform="translate(22.89,550.93) rotate(-90)" x="0" y="0" font-family="Liberation Sans" font-weight="normal" font-size="10.60" textLength="16.71" lengthAdjust="spacingAndGlyphs" fill="#000">400</text>
<text stroke="#000" stroke-width="0.3" transform="translate(22.90,636.13) rotate(-90)" x="0" y="0" font-family="Liberation Sans" font-weight="normal" font-size="9.75" textLength="5.94" lengthAdjust="spacingAndGlyphs" fill="#000">0</text>
<text x="29.30" y="649.41" font-family="Liberation Sans" font-weight="normal" font-size="9.47" textLength="5.59" lengthAdjust="spacingAndGlyphs" fill="#000" stroke="#000" stroke-width="0.25">0</text>
<text x="66.75" y="649.41" font-family="Liberation Sans" font-weight="normal" font-size="9.47" textLength="18.27" lengthAdjust="spacingAndGlyphs" fill="#000" stroke="#000" stroke-width="0.25">200</text>
<text x="110.16" y="649.41" font-family="Liberation Sans" font-weight="normal" font-size="9.47" textLength="17.85" lengthAdjust="spacingAndGlyphs" fill="#000" stroke="#000" stroke-width="0.25">400</text>
<text x="149.46" y="559.10" font-family="Liberation Sans" font-weight="normal" font-size="12.65" textLength="11.48" lengthAdjust="spacingAndGlyphs" fill="#111" stroke="#111" stroke-width="0.3">M</text><text x="161.39" y="561.50" font-family="Liberation Sans" font-weight="normal" font-size="7.71" textLength="4.50" lengthAdjust="spacingAndGlyphs" fill="#333">1</text><text stroke="#111" stroke-width="0.3" x="173.30" y="559.10" font-family="Liberation Sans" font-weight="normal" font-size="11.90" text-anchor="start" fill="#111">57</text><text x="149.46" y="571.10" font-family="Liberation Sans" font-weight="normal" font-size="12.65" textLength="11.48" lengthAdjust="spacingAndGlyphs" fill="#111" stroke="#111" stroke-width="0.3">M</text><text x="161.60" y="573.50" font-family="Liberation Sans" font-weight="normal" font-size="7.60" textLength="4.44" lengthAdjust="spacingAndGlyphs" fill="#333">2</text><text stroke="#111" stroke-width="0.3" x="173.30" y="571.10" font-family="Liberation Sans" font-weight="normal" font-size="11.90" text-anchor="start" fill="#111">38</text><text x="149.46" y="583.60" font-family="Liberation Sans" font-weight="normal" font-size="12.65" textLength="11.48" lengthAdjust="spacingAndGlyphs" fill="#111" stroke="#111" stroke-width="0.3">M</text><text x="161.71" y="585.93" font-family="Liberation Sans" font-weight="normal" font-size="7.49" textLength="4.37" lengthAdjust="spacingAndGlyphs" fill="#333">3</text><text stroke="#111" stroke-width="0.3" x="173.30" y="583.60" font-family="Liberation Sans" font-weight="normal" font-size="11.90" text-anchor="start" fill="#111">1.1</text><text x="149.46" y="595.70" font-family="Liberation Sans" font-weight="normal" font-size="12.65" textLength="11.48" lengthAdjust="spacingAndGlyphs" fill="#111" stroke="#111" stroke-width="0.3">M</text><text x="161.82" y="598.10" font-family="Liberation Sans" font-weight="normal" font-size="7.71" textLength="4.50" lengthAdjust="spacingAndGlyphs" fill="#333">4</text><text stroke="#111" stroke-width="0.3" x="173.30" y="595.70" font-family="Liberation Sans" font-weight="normal" font-size="11.90" text-anchor="start" fill="#111">3.8</text>
<polygon points="256.6,629.4 256.6,574.0 257.6,574.0 257.6,539.9 258.4,539.9 258.4,570.4 259.5,570.4 259.5,599.4 261.5,600.6 264.4,601.7 265.5,603.5 266.7,605.2 267.8,608.7 269.6,612.1 271.3,615.6 273.6,619.0 275.9,620.8 278.2,622.5 280.5,623.9 284.0,625.4 287.4,626.5 290.9,627.1 293.2,628.0 301.9,628.0 301.9,615.6 303.0,615.6 303.0,598.3 303.8,598.3 303.8,591.4 305.3,591.4 305.9,593.0 305.9,605.2 307.1,605.2 307.1,626.0 308.2,626.0 308.5,628.0 345.0,628.0 347.7,626.8 350.0,628.0 368.7,628.0 368.7,629.4" fill="#575757" stroke="#111" stroke-width="1.1" stroke-linejoin="miter"/>
<rect x="257.0" y="540.0" width="0.7" height="34" fill="#c8c8c8"/>
<g stroke="#111" fill="none">
<line x1="256.5" y1="539.4" x2="368.7" y2="539.4" stroke-width="1.4"/>
<line x1="368.7" y1="538.8" x2="368.7" y2="629.4" stroke-width="1.4"/>
<line x1="256.5" y1="538.8" x2="256.5" y2="630.1999999999999" stroke-width="1.9"/>
<line x1="251.2" y1="629.4" x2="369.3" y2="629.4" stroke-width="1.8"/>
<line x1="250.7" y1="629.40" x2="256.5" y2="629.40" stroke-width="1.4"/>
<line x1="253.1" y1="625.80" x2="256.5" y2="625.80" stroke-width="1.35"/>
<line x1="253.1" y1="622.20" x2="256.5" y2="622.20" stroke-width="1.35"/>
<line x1="253.1" y1="618.60" x2="256.5" y2="618.60" stroke-width="1.35"/>
<line x1="253.1" y1="615.00" x2="256.5" y2="615.00" stroke-width="1.35"/>
<line x1="250.7" y1="611.40" x2="256.5" y2="611.40" stroke-width="1.4"/>
<line x1="253.1" y1="607.80" x2="256.5" y2="607.80" stroke-width="1.35"/>
<line x1="253.1" y1="604.20" x2="256.5" y2="604.20" stroke-width="1.35"/>
<line x1="253.1" y1="600.60" x2="256.5" y2="600.60" stroke-width="1.35"/>
<line x1="253.1" y1="597.00" x2="256.5" y2="597.00" stroke-width="1.35"/>
<line x1="250.7" y1="593.40" x2="256.5" y2="593.40" stroke-width="1.4"/>
<line x1="253.1" y1="589.80" x2="256.5" y2="589.80" stroke-width="1.35"/>
<line x1="253.1" y1="586.20" x2="256.5" y2="586.20" stroke-width="1.35"/>
<line x1="253.1" y1="582.60" x2="256.5" y2="582.60" stroke-width="1.35"/>
<line x1="253.1" y1="579.00" x2="256.5" y2="579.00" stroke-width="1.35"/>
<line x1="250.7" y1="575.40" x2="256.5" y2="575.40" stroke-width="1.4"/>
<line x1="253.1" y1="571.80" x2="256.5" y2="571.80" stroke-width="1.35"/>
<line x1="253.1" y1="568.20" x2="256.5" y2="568.20" stroke-width="1.35"/>
<line x1="253.1" y1="564.60" x2="256.5" y2="564.60" stroke-width="1.35"/>
<line x1="253.1" y1="561.00" x2="256.5" y2="561.00" stroke-width="1.35"/>
<line x1="250.7" y1="557.40" x2="256.5" y2="557.40" stroke-width="1.4"/>
<line x1="253.1" y1="553.80" x2="256.5" y2="553.80" stroke-width="1.35"/>
<line x1="253.1" y1="550.20" x2="256.5" y2="550.20" stroke-width="1.35"/>
<line x1="253.1" y1="546.60" x2="256.5" y2="546.60" stroke-width="1.35"/>
<line x1="253.1" y1="543.00" x2="256.5" y2="543.00" stroke-width="1.35"/>
<line x1="250.7" y1="539.40" x2="256.5" y2="539.40" stroke-width="1.4"/>
<line x1="256.70" y1="629.4" x2="256.70" y2="635.6999999999999" stroke-width="1.3"/>
<line x1="265.82" y1="629.4" x2="265.82" y2="633.8" stroke-width="1.1"/>
<line x1="274.94" y1="629.4" x2="274.94" y2="633.8" stroke-width="1.1"/>
<line x1="284.06" y1="629.4" x2="284.06" y2="633.8" stroke-width="1.1"/>
<line x1="293.18" y1="629.4" x2="293.18" y2="633.8" stroke-width="1.1"/>
<line x1="302.30" y1="629.4" x2="302.30" y2="635.6999999999999" stroke-width="1.3"/>
<line x1="311.42" y1="629.4" x2="311.42" y2="633.8" stroke-width="1.1"/>
<line x1="320.54" y1="629.4" x2="320.54" y2="633.8" stroke-width="1.1"/>
<line x1="329.66" y1="629.4" x2="329.66" y2="633.8" stroke-width="1.1"/>
<line x1="338.78" y1="629.4" x2="338.78" y2="633.8" stroke-width="1.1"/>
<line x1="347.90" y1="629.4" x2="347.90" y2="635.6999999999999" stroke-width="1.3"/>
<line x1="357.02" y1="629.4" x2="357.02" y2="633.8" stroke-width="1.1"/>
<line x1="366.14" y1="629.4" x2="366.14" y2="633.8" stroke-width="1.1"/>
<line x1="256.7" y1="575.2" x2="355.8" y2="575.2" stroke-width="1.3"/>
<line x1="297.9" y1="569.5" x2="297.9" y2="581.2" stroke-width="1.3"/>
<line x1="310.5" y1="569.5" x2="310.5" y2="581.2" stroke-width="1.3"/>
<line x1="340.2" y1="569.5" x2="340.2" y2="581.2" stroke-width="1.3"/>
<line x1="355.8" y1="569.5" x2="355.8" y2="581.2" stroke-width="1.3"/>
</g>
<text x="272.89" y="571.40" font-family="Liberation Sans" font-weight="bold" font-size="9.75" textLength="10.00" lengthAdjust="spacingAndGlyphs" fill="#000">M</text><text x="282.93" y="573.40" font-family="Liberation Sans" font-weight="bold" font-size="6.84" textLength="4.18" lengthAdjust="spacingAndGlyphs" fill="#000">1</text>
<text x="296.19" y="562.00" font-family="Liberation Sans" font-weight="bold" font-size="9.75" textLength="10.00" lengthAdjust="spacingAndGlyphs" fill="#000">M</text><text x="306.44" y="564.00" font-family="Liberation Sans" font-weight="bold" font-size="6.74" textLength="4.12" lengthAdjust="spacingAndGlyphs" fill="#000">2</text>
<text x="317.79" y="570.90" font-family="Liberation Sans" font-weight="bold" font-size="9.75" textLength="10.00" lengthAdjust="spacingAndGlyphs" fill="#000">M</text><text x="328.14" y="572.82" font-family="Liberation Sans" font-weight="bold" font-size="6.62" textLength="4.05" lengthAdjust="spacingAndGlyphs" fill="#000">3</text>
<text x="340.19" y="562.00" font-family="Liberation Sans" font-weight="bold" font-size="9.75" textLength="10.00" lengthAdjust="spacingAndGlyphs" fill="#000">M</text><text x="350.59" y="564.00" font-family="Liberation Sans" font-weight="bold" font-size="6.84" textLength="4.18" lengthAdjust="spacingAndGlyphs" fill="#000">4</text>
<text transform="translate(236.28,617.45) rotate(-90)" x="0" y="0" font-family="Liberation Sans" font-weight="bold" font-size="11.84" textLength="65.61" lengthAdjust="spacingAndGlyphs" fill="#000">Cell number</text>
<text stroke="#000" stroke-width="0.3" transform="translate(246.00,548.83) rotate(-90)" x="0" y="0" font-family="Liberation Sans" font-weight="normal" font-size="10.46" textLength="17.33" lengthAdjust="spacingAndGlyphs" fill="#000">400</text>
<text stroke="#000" stroke-width="0.3" transform="translate(246.00,633.43) rotate(-90)" x="0" y="0" font-family="Liberation Sans" font-weight="normal" font-size="9.75" textLength="5.94" lengthAdjust="spacingAndGlyphs" fill="#000">0</text>
<text x="256.95" y="648.11" font-family="Liberation Sans" font-weight="normal" font-size="9.47" textLength="6.29" lengthAdjust="spacingAndGlyphs" fill="#000" stroke="#000" stroke-width="0.25">0</text>
<text x="294.59" y="648.11" font-family="Liberation Sans" font-weight="normal" font-size="9.47" textLength="17.00" lengthAdjust="spacingAndGlyphs" fill="#000" stroke="#000" stroke-width="0.25">200</text>
<text x="339.37" y="648.11" font-family="Liberation Sans" font-weight="normal" font-size="9.47" textLength="17.23" lengthAdjust="spacingAndGlyphs" fill="#000" stroke="#000" stroke-width="0.25">400</text>
<text x="381.06" y="557.60" font-family="Liberation Sans" font-weight="normal" font-size="12.65" textLength="11.48" lengthAdjust="spacingAndGlyphs" fill="#111" stroke="#111" stroke-width="0.3">M</text><text x="392.99" y="560.00" font-family="Liberation Sans" font-weight="normal" font-size="7.71" textLength="4.50" lengthAdjust="spacingAndGlyphs" fill="#333">1</text><text stroke="#111" stroke-width="0.3" x="405.20" y="557.60" font-family="Liberation Sans" font-weight="normal" font-size="11.90" text-anchor="start" fill="#111">77.7</text><text x="381.06" y="569.30" font-family="Liberation Sans" font-weight="normal" font-size="12.65" textLength="11.48" lengthAdjust="spacingAndGlyphs" fill="#111" stroke="#111" stroke-width="0.3">M</text><text x="393.20" y="571.70" font-family="Liberation Sans" font-weight="normal" font-size="7.60" textLength="4.44" lengthAdjust="spacingAndGlyphs" fill="#333">2</text><text stroke="#111" stroke-width="0.3" x="405.20" y="569.30" font-family="Liberation Sans" font-weight="normal" font-size="11.90" text-anchor="start" fill="#111">18.8</text><text x="381.06" y="581.80" font-family="Liberation Sans" font-weight="normal" font-size="12.65" textLength="11.48" lengthAdjust="spacingAndGlyphs" fill="#111" stroke="#111" stroke-width="0.3">M</text><text x="393.31" y="584.13" font-family="Liberation Sans" font-weight="normal" font-size="7.49" textLength="4.37" lengthAdjust="spacingAndGlyphs" fill="#333">3</text><text stroke="#111" stroke-width="0.3" x="405.20" y="581.80" font-family="Liberation Sans" font-weight="normal" font-size="11.90" text-anchor="start" fill="#111">0.6</text><text x="381.06" y="594.10" font-family="Liberation Sans" font-weight="normal" font-size="12.65" textLength="11.48" lengthAdjust="spacingAndGlyphs" fill="#111" stroke="#111" stroke-width="0.3">M</text><text x="393.42" y="596.50" font-family="Liberation Sans" font-weight="normal" font-size="7.71" textLength="4.50" lengthAdjust="spacingAndGlyphs" fill="#333">4</text><text stroke="#111" stroke-width="0.3" x="405.20" y="594.10" font-family="Liberation Sans" font-weight="normal" font-size="11.90" text-anchor="start" fill="#111">2.5</text>
<polygon points="29.4,774.5 29.4,729.6 30.5,729.6 30.5,683.9 30.7,683.9 30.7,714.0 32.0,714.0 32.0,740.0 32.4,740.5 33.9,742.3 35.1,745.7 36.2,749.2 37.4,752.1 38.5,756.1 39.7,760.7 41.4,765.4 43.1,768.2 45.5,770.5 48.9,771.7 54.7,772.3 61.6,772.8 69.2,772.8 69.4,760.7 70.8,760.7 70.8,728.4 71.8,728.4 71.8,703.0 73.1,703.0 73.1,710.0 73.7,710.0 73.7,728.4 74.5,728.4 74.5,760.7 76.0,760.7 76.0,771.1 77.7,772.8 134.5,772.8 134.5,774.5" fill="#575757" stroke="#111" stroke-width="1.1" stroke-linejoin="miter"/>
<g stroke="#111" fill="none">
<line x1="28.7" y1="683.5" x2="134.5" y2="683.5" stroke-width="1.4"/>
<line x1="134.5" y1="682.9" x2="134.5" y2="774.5" stroke-width="1.4"/>
<line x1="28.7" y1="682.9" x2="28.7" y2="775.3" stroke-width="1.9"/>
<line x1="23.4" y1="774.5" x2="135.1" y2="774.5" stroke-width="1.8"/>
<line x1="22.9" y1="774.50" x2="28.7" y2="774.50" stroke-width="1.4"/>
<line x1="25.3" y1="770.86" x2="28.7" y2="770.86" stroke-width="1.35"/>
<line x1="25.3" y1="767.22" x2="28.7" y2="767.22" stroke-width="1.35"/>
<line x1="25.3" y1="763.58" x2="28.7" y2="763.58" stroke-width="1.35"/>
<line x1="25.3" y1="759.94" x2="28.7" y2="759.94" stroke-width="1.35"/>
<line x1="22.9" y1="756.30" x2="28.7" y2="756.30" stroke-width="1.4"/>
<line x1="25.3" y1="752.66" x2="28.7" y2="752.66" stroke-width="1.35"/>
<line x1="25.3" y1="749.02" x2="28.7" y2="749.02" stroke-width="1.35"/>
<line x1="25.3" y1="745.38" x2="28.7" y2="745.38" stroke-width="1.35"/>
<line x1="25.3" y1="741.74" x2="28.7" y2="741.74" stroke-width="1.35"/>
<line x1="22.9" y1="738.10" x2="28.7" y2="738.10" stroke-width="1.4"/>
<line x1="25.3" y1="734.46" x2="28.7" y2="734.46" stroke-width="1.35"/>
<line x1="25.3" y1="730.82" x2="28.7" y2="730.82" stroke-width="1.35"/>
<line x1="25.3" y1="727.18" x2="28.7" y2="727.18" stroke-width="1.35"/>
<line x1="25.3" y1="723.54" x2="28.7" y2="723.54" stroke-width="1.35"/>
<line x1="22.9" y1="719.90" x2="28.7" y2="719.90" stroke-width="1.4"/>
<line x1="25.3" y1="716.26" x2="28.7" y2="716.26" stroke-width="1.35"/>
<line x1="25.3" y1="712.62" x2="28.7" y2="712.62" stroke-width="1.35"/>
<line x1="25.3" y1="708.98" x2="28.7" y2="708.98" stroke-width="1.35"/>
<line x1="25.3" y1="705.34" x2="28.7" y2="705.34" stroke-width="1.35"/>
<line x1="22.9" y1="701.70" x2="28.7" y2="701.70" stroke-width="1.4"/>
<line x1="25.3" y1="698.06" x2="28.7" y2="698.06" stroke-width="1.35"/>
<line x1="25.3" y1="694.42" x2="28.7" y2="694.42" stroke-width="1.35"/>
<line x1="25.3" y1="690.78" x2="28.7" y2="690.78" stroke-width="1.35"/>
<line x1="25.3" y1="687.14" x2="28.7" y2="687.14" stroke-width="1.35"/>
<line x1="22.9" y1="683.50" x2="28.7" y2="683.50" stroke-width="1.4"/>
<line x1="29.00" y1="774.5" x2="29.00" y2="780.8" stroke-width="1.3"/>
<line x1="37.78" y1="774.5" x2="37.78" y2="778.9" stroke-width="1.1"/>
<line x1="46.56" y1="774.5" x2="46.56" y2="778.9" stroke-width="1.1"/>
<line x1="55.34" y1="774.5" x2="55.34" y2="778.9" stroke-width="1.1"/>
<line x1="64.12" y1="774.5" x2="64.12" y2="778.9" stroke-width="1.1"/>
<line x1="72.90" y1="774.5" x2="72.90" y2="780.8" stroke-width="1.3"/>
<line x1="81.68" y1="774.5" x2="81.68" y2="778.9" stroke-width="1.1"/>
<line x1="90.46" y1="774.5" x2="90.46" y2="778.9" stroke-width="1.1"/>
<line x1="99.24" y1="774.5" x2="99.24" y2="778.9" stroke-width="1.1"/>
<line x1="108.02" y1="774.5" x2="108.02" y2="778.9" stroke-width="1.1"/>
<line x1="116.80" y1="774.5" x2="116.80" y2="780.8" stroke-width="1.3"/>
<line x1="125.58" y1="774.5" x2="125.58" y2="778.9" stroke-width="1.1"/>
<line x1="134.36" y1="774.5" x2="134.36" y2="778.9" stroke-width="1.1"/>
<line x1="30.6" y1="720.0" x2="120.0" y2="720.0" stroke-width="1.3"/>
<line x1="66.7" y1="714.3" x2="66.7" y2="726.0" stroke-width="1.3"/>
<line x1="78.7" y1="714.3" x2="78.7" y2="726.0" stroke-width="1.3"/>
<line x1="105.9" y1="714.3" x2="105.9" y2="726.0" stroke-width="1.3"/>
<line x1="120.0" y1="714.3" x2="120.0" y2="726.0" stroke-width="1.3"/>
</g>
<text x="41.19" y="715.40" font-family="Liberation Sans" font-weight="bold" font-size="9.75" textLength="10.00" lengthAdjust="spacingAndGlyphs" fill="#000">M</text><text x="51.23" y="717.40" font-family="Liberation Sans" font-weight="bold" font-size="6.84" textLength="4.18" lengthAdjust="spacingAndGlyphs" fill="#000">1</text>
<text x="73.69" y="699.20" font-family="Liberation Sans" font-weight="bold" font-size="9.75" textLength="10.00" lengthAdjust="spacingAndGlyphs" fill="#000">M</text><text x="83.94" y="701.20" font-family="Liberation Sans" font-weight="bold" font-size="6.74" textLength="4.12" lengthAdjust="spacingAndGlyphs" fill="#000">2</text>
<text x="83.89" y="716.70" font-family="Liberation Sans" font-weight="bold" font-size="9.75" textLength="10.00" lengthAdjust="spacingAndGlyphs" fill="#000">M</text><text x="94.24" y="718.62" font-family="Liberation Sans" font-weight="bold" font-size="6.62" textLength="4.05" lengthAdjust="spacingAndGlyphs" fill="#000">3</text>
<text x="105.99" y="710.70" font-family="Liberation Sans" font-weight="bold" font-size="9.75" textLength="10.00" lengthAdjust="spacingAndGlyphs" fill="#000">M</text><text x="116.39" y="712.70" font-family="Liberation Sans" font-weight="bold" font-size="6.84" textLength="4.18" lengthAdjust="spacingAndGlyphs" fill="#000">4</text>
<text transform="translate(11.39,763.55) rotate(-90)" x="0" y="0" font-family="Liberation Sans" font-weight="bold" font-size="11.02" textLength="64.40" lengthAdjust="spacingAndGlyphs" fill="#000">Cell number</text>
<text stroke="#000" stroke-width="0.3" transform="translate(18.91,692.03) rotate(-90)" x="0" y="0" font-family="Liberation Sans" font-weight="normal" font-size="9.05" textLength="17.23" lengthAdjust="spacingAndGlyphs" fill="#000">400</text>
<text stroke="#000" stroke-width="0.3" transform="translate(18.92,779.04) rotate(-90)" x="0" y="0" font-family="Liberation Sans" font-weight="normal" font-size="8.20" textLength="6.06" lengthAdjust="spacingAndGlyphs" fill="#000">0</text>
<text x="26.68" y="791.00" font-family="Liberation Sans" font-weight="normal" font-size="9.75" textLength="5.82" lengthAdjust="spacingAndGlyphs" fill="#000" stroke="#000" stroke-width="0.25">0</text>
<text x="64.28" y="791.00" font-family="Liberation Sans" font-weight="normal" font-size="9.75" textLength="17.32" lengthAdjust="spacingAndGlyphs" fill="#000" stroke="#000" stroke-width="0.25">200</text>
<text x="109.37" y="791.00" font-family="Liberation Sans" font-weight="normal" font-size="9.75" textLength="17.23" lengthAdjust="spacingAndGlyphs" fill="#000" stroke="#000" stroke-width="0.25">400</text>
<text x="148.06" y="700.30" font-family="Liberation Sans" font-weight="normal" font-size="12.65" textLength="11.48" lengthAdjust="spacingAndGlyphs" fill="#111" stroke="#111" stroke-width="0.3">M</text><text x="159.99" y="702.70" font-family="Liberation Sans" font-weight="normal" font-size="7.71" textLength="4.50" lengthAdjust="spacingAndGlyphs" fill="#333">1</text><text stroke="#111" stroke-width="0.3" x="172.50" y="700.30" font-family="Liberation Sans" font-weight="normal" font-size="11.90" text-anchor="start" fill="#111">64.9</text><text x="148.06" y="712.60" font-family="Liberation Sans" font-weight="normal" font-size="12.65" textLength="11.48" lengthAdjust="spacingAndGlyphs" fill="#111" stroke="#111" stroke-width="0.3">M</text><text x="160.20" y="715.00" font-family="Liberation Sans" font-weight="normal" font-size="7.60" textLength="4.44" lengthAdjust="spacingAndGlyphs" fill="#333">2</text><text stroke="#111" stroke-width="0.3" x="172.50" y="712.60" font-family="Liberation Sans" font-weight="normal" font-size="11.90" text-anchor="start" fill="#111">34.1</text><text x="148.06" y="724.10" font-family="Liberation Sans" font-weight="normal" font-size="12.65" textLength="11.48" lengthAdjust="spacingAndGlyphs" fill="#111" stroke="#111" stroke-width="0.3">M</text><text x="160.31" y="726.43" font-family="Liberation Sans" font-weight="normal" font-size="7.49" textLength="4.37" lengthAdjust="spacingAndGlyphs" fill="#333">3</text><text stroke="#111" stroke-width="0.3" x="172.50" y="724.10" font-family="Liberation Sans" font-weight="normal" font-size="11.90" text-anchor="start" fill="#111">0.3</text><text x="148.06" y="736.20" font-family="Liberation Sans" font-weight="normal" font-size="12.65" textLength="11.48" lengthAdjust="spacingAndGlyphs" fill="#111" stroke="#111" stroke-width="0.3">M</text><text x="160.42" y="738.60" font-family="Liberation Sans" font-weight="normal" font-size="7.71" textLength="4.50" lengthAdjust="spacingAndGlyphs" fill="#333">4</text><text stroke="#111" stroke-width="0.3" x="172.50" y="736.20" font-family="Liberation Sans" font-weight="normal" font-size="11.90" text-anchor="start" fill="#111">0.7</text>
<polygon points="259.5,773.4 259.5,717.2 259.9,717.2 259.9,682.3 260.6,682.3 260.6,710.9 262.3,710.9 262.3,734.5 262.9,735.1 264.7,736.8 265.8,739.1 267.0,742.6 268.7,747.2 270.4,751.2 272.1,753.5 273.9,756.4 275.6,759.9 277.3,762.8 279.6,765.7 281.9,767.4 283.2,765.8 284.3,766.8 286.0,769.7 288.9,770.8 292.9,770.5 295.2,771.8 301.3,771.8 301.6,763.4 303.3,759.3 305.0,759.9 306.2,769.1 307.3,771.8 366.5,771.8 366.5,773.4" fill="#575757" stroke="#111" stroke-width="1.1" stroke-linejoin="miter"/>
<rect x="259.5" y="682.4" width="0.5" height="34.8" fill="#fff"/>
<g stroke="#111" fill="none">
<line x1="258.9" y1="681.8" x2="366.5" y2="681.8" stroke-width="1.4"/>
<line x1="366.5" y1="681.1999999999999" x2="366.5" y2="773.4" stroke-width="1.4"/>
<line x1="258.9" y1="681.1999999999999" x2="258.9" y2="774.1999999999999" stroke-width="1.9"/>
<line x1="253.59999999999997" y1="773.4" x2="367.1" y2="773.4" stroke-width="1.8"/>
<line x1="253.09999999999997" y1="773.40" x2="258.9" y2="773.40" stroke-width="1.4"/>
<line x1="255.49999999999997" y1="769.74" x2="258.9" y2="769.74" stroke-width="1.35"/>
<line x1="255.49999999999997" y1="766.07" x2="258.9" y2="766.07" stroke-width="1.35"/>
<line x1="255.49999999999997" y1="762.41" x2="258.9" y2="762.41" stroke-width="1.35"/>
<line x1="255.49999999999997" y1="758.74" x2="258.9" y2="758.74" stroke-width="1.35"/>
<line x1="253.09999999999997" y1="755.08" x2="258.9" y2="755.08" stroke-width="1.4"/>
<line x1="255.49999999999997" y1="751.42" x2="258.9" y2="751.42" stroke-width="1.35"/>
<line x1="255.49999999999997" y1="747.75" x2="258.9" y2="747.75" stroke-width="1.35"/>
<line x1="255.49999999999997" y1="744.09" x2="258.9" y2="744.09" stroke-width="1.35"/>
<line x1="255.49999999999997" y1="740.42" x2="258.9" y2="740.42" stroke-width="1.35"/>
<line x1="253.09999999999997" y1="736.76" x2="258.9" y2="736.76" stroke-width="1.4"/>
<line x1="255.49999999999997" y1="733.10" x2="258.9" y2="733.10" stroke-width="1.35"/>
<line x1="255.49999999999997" y1="729.43" x2="258.9" y2="729.43" stroke-width="1.35"/>
<line x1="255.49999999999997" y1="725.77" x2="258.9" y2="725.77" stroke-width="1.35"/>
<line x1="255.49999999999997" y1="722.10" x2="258.9" y2="722.10" stroke-width="1.35"/>
<line x1="253.09999999999997" y1="718.44" x2="258.9" y2="718.44" stroke-width="1.4"/>
<line x1="255.49999999999997" y1="714.78" x2="258.9" y2="714.78" stroke-width="1.35"/>
<line x1="255.49999999999997" y1="711.11" x2="258.9" y2="711.11" stroke-width="1.35"/>
<line x1="255.49999999999997" y1="707.45" x2="258.9" y2="707.45" stroke-width="1.35"/>
<line x1="255.49999999999997" y1="703.78" x2="258.9" y2="703.78" stroke-width="1.35"/>
<line x1="253.09999999999997" y1="700.12" x2="258.9" y2="700.12" stroke-width="1.4"/>
<line x1="255.49999999999997" y1="696.46" x2="258.9" y2="696.46" stroke-width="1.35"/>
<line x1="255.49999999999997" y1="692.79" x2="258.9" y2="692.79" stroke-width="1.35"/>
<line x1="255.49999999999997" y1="689.13" x2="258.9" y2="689.13" stroke-width="1.35"/>
<line x1="255.49999999999997" y1="685.46" x2="258.9" y2="685.46" stroke-width="1.35"/>
<line x1="253.09999999999997" y1="681.80" x2="258.9" y2="681.80" stroke-width="1.4"/>
<line x1="259.20" y1="773.4" x2="259.20" y2="779.6999999999999" stroke-width="1.3"/>
<line x1="268.26" y1="773.4" x2="268.26" y2="777.8" stroke-width="1.1"/>
<line x1="277.32" y1="773.4" x2="277.32" y2="777.8" stroke-width="1.1"/>
<line x1="286.38" y1="773.4" x2="286.38" y2="777.8" stroke-width="1.1"/>
<line x1="295.44" y1="773.4" x2="295.44" y2="777.8" stroke-width="1.1"/>
<line x1="304.50" y1="773.4" x2="304.50" y2="779.6999999999999" stroke-width="1.3"/>
<line x1="313.56" y1="773.4" x2="313.56" y2="777.8" stroke-width="1.1"/>
<line x1="322.62" y1="773.4" x2="322.62" y2="777.8" stroke-width="1.1"/>
<line x1="331.68" y1="773.4" x2="331.68" y2="777.8" stroke-width="1.1"/>
<line x1="340.74" y1="773.4" x2="340.74" y2="777.8" stroke-width="1.1"/>
<line x1="349.80" y1="773.4" x2="349.80" y2="779.6999999999999" stroke-width="1.3"/>
<line x1="358.86" y1="773.4" x2="358.86" y2="777.8" stroke-width="1.1"/>
<line x1="261.0" y1="718.4" x2="351.2" y2="718.4" stroke-width="1.3"/>
<line x1="297.3" y1="712.6999999999999" x2="297.3" y2="724.4" stroke-width="1.3"/>
<line x1="310.0" y1="712.6999999999999" x2="310.0" y2="724.4" stroke-width="1.3"/>
<line x1="336.4" y1="712.6999999999999" x2="336.4" y2="724.4" stroke-width="1.3"/>
<line x1="351.2" y1="712.6999999999999" x2="351.2" y2="724.4" stroke-width="1.3"/>
</g>
<text x="272.49" y="713.80" font-family="Liberation Sans" font-weight="bold" font-size="9.75" textLength="10.00" lengthAdjust="spacingAndGlyphs" fill="#000">M</text><text x="282.53" y="715.80" font-family="Liberation Sans" font-weight="bold" font-size="6.84" textLength="4.18" lengthAdjust="spacingAndGlyphs" fill="#000">1</text>
<text x="296.49" y="705.70" font-family="Liberation Sans" font-weight="bold" font-size="9.75" textLength="10.00" lengthAdjust="spacingAndGlyphs" fill="#000">M</text><text x="306.74" y="707.70" font-family="Liberation Sans" font-weight="bold" font-size="6.74" textLength="4.12" lengthAdjust="spacingAndGlyphs" fill="#000">2</text>
<text x="317.79" y="714.50" font-family="Liberation Sans" font-weight="bold" font-size="9.75" textLength="10.00" lengthAdjust="spacingAndGlyphs" fill="#000">M</text><text x="328.14" y="716.42" font-family="Liberation Sans" font-weight="bold" font-size="6.62" textLength="4.05" lengthAdjust="spacingAndGlyphs" fill="#000">3</text>
<text x="336.19" y="705.00" font-family="Liberation Sans" font-weight="bold" font-size="9.75" textLength="10.00" lengthAdjust="spacingAndGlyphs" fill="#000">M</text><text x="346.59" y="707.00" font-family="Liberation Sans" font-weight="bold" font-size="6.84" textLength="4.18" lengthAdjust="spacingAndGlyphs" fill="#000">4</text>
<text transform="translate(236.29,760.45) rotate(-90)" x="0" y="0" font-family="Liberation Sans" font-weight="bold" font-size="11.02" textLength="65.61" lengthAdjust="spacingAndGlyphs" fill="#000">Cell number</text>
<text stroke="#000" stroke-width="0.3" transform="translate(248.30,690.04) rotate(-90)" x="0" y="0" font-family="Liberation Sans" font-weight="normal" font-size="9.75" textLength="17.85" lengthAdjust="spacingAndGlyphs" fill="#000">400</text>
<text stroke="#000" stroke-width="0.3" transform="translate(248.30,777.04) rotate(-90)" x="0" y="0" font-family="Liberation Sans" font-weight="normal" font-size="9.75" textLength="6.06" lengthAdjust="spacingAndGlyphs" fill="#000">0</text>
<text x="257.86" y="792.51" font-family="Liberation Sans" font-weight="normal" font-size="9.47" textLength="6.06" lengthAdjust="spacingAndGlyphs" fill="#000" stroke="#000" stroke-width="0.25">0</text>
<text x="295.28" y="792.51" font-family="Liberation Sans" font-weight="normal" font-size="9.47" textLength="17.32" lengthAdjust="spacingAndGlyphs" fill="#000" stroke="#000" stroke-width="0.25">200</text>
<text x="339.77" y="792.51" font-family="Liberation Sans" font-weight="normal" font-size="9.47" textLength="16.92" lengthAdjust="spacingAndGlyphs" fill="#000" stroke="#000" stroke-width="0.25">400</text>
<text x="381.06" y="700.10" font-family="Liberation Sans" font-weight="normal" font-size="12.65" textLength="11.48" lengthAdjust="spacingAndGlyphs" fill="#111" stroke="#111" stroke-width="0.3">M</text><text x="392.99" y="702.50" font-family="Liberation Sans" font-weight="normal" font-size="7.71" textLength="4.50" lengthAdjust="spacingAndGlyphs" fill="#333">1</text><text stroke="#111" stroke-width="0.3" x="403.40" y="700.10" font-family="Liberation Sans" font-weight="normal" font-size="11.90" text-anchor="start" fill="#111">94.7</text><text x="381.06" y="712.20" font-family="Liberation Sans" font-weight="normal" font-size="12.65" textLength="11.48" lengthAdjust="spacingAndGlyphs" fill="#111" stroke="#111" stroke-width="0.3">M</text><text x="393.20" y="714.60" font-family="Liberation Sans" font-weight="normal" font-size="7.60" textLength="4.44" lengthAdjust="spacingAndGlyphs" fill="#333">2</text><text stroke="#111" stroke-width="0.3" x="403.40" y="712.20" font-family="Liberation Sans" font-weight="normal" font-size="11.90" text-anchor="start" fill="#111">5.2</text><text x="381.06" y="724.30" font-family="Liberation Sans" font-weight="normal" font-size="12.65" textLength="11.48" lengthAdjust="spacingAndGlyphs" fill="#111" stroke="#111" stroke-width="0.3">M</text><text x="393.31" y="726.63" font-family="Liberation Sans" font-weight="normal" font-size="7.49" textLength="4.37" lengthAdjust="spacingAndGlyphs" fill="#333">3</text><text stroke="#111" stroke-width="0.3" x="403.40" y="724.30" font-family="Liberation Sans" font-weight="normal" font-size="11.90" text-anchor="start" fill="#111">0.0</text><text x="381.06" y="736.10" font-family="Liberation Sans" font-weight="normal" font-size="12.65" textLength="11.48" lengthAdjust="spacingAndGlyphs" fill="#111" stroke="#111" stroke-width="0.3">M</text><text x="393.42" y="738.50" font-family="Liberation Sans" font-weight="normal" font-size="7.71" textLength="4.50" lengthAdjust="spacingAndGlyphs" fill="#333">4</text><text stroke="#111" stroke-width="0.3" x="403.40" y="736.10" font-family="Liberation Sans" font-weight="normal" font-size="11.90" text-anchor="start" fill="#111">0.0</text>
<polygon points="29.2,914.5 29.2,869.0 30.4,869.0 30.4,826.0 30.8,828.1 31.2,831.5 32.3,839.6 33.5,843.1 34.7,853.4 35.8,862.7 37.0,866.1 37.5,875.4 38.5,886.9 39.6,893.8 41.0,900.7 42.7,905.4 44.5,908.8 46.2,911.1 49.1,912.3 56.0,912.6 69.3,912.6 69.3,904.2 70.4,904.2 70.4,877.7 71.6,877.7 71.6,854.6 72.1,844.8 73.5,844.8 73.5,854.6 74.2,854.6 74.2,893.8 75.4,893.8 75.4,911.1 76.8,912.6 135.2,912.6 135.2,914.5" fill="#575757" stroke="#111" stroke-width="1.1" stroke-linejoin="miter"/>
<rect x="29.35" y="823.6" width="0.7" height="45.4" fill="#fff"/>
<g stroke="#111" fill="none">
<line x1="28.9" y1="823.2" x2="135.2" y2="823.2" stroke-width="1.4"/>
<line x1="135.2" y1="822.6" x2="135.2" y2="914.5" stroke-width="1.4"/>
<line x1="28.9" y1="822.6" x2="28.9" y2="915.3" stroke-width="1.9"/>
<line x1="23.599999999999998" y1="914.5" x2="135.79999999999998" y2="914.5" stroke-width="1.8"/>
<line x1="23.099999999999998" y1="914.50" x2="28.9" y2="914.50" stroke-width="1.4"/>
<line x1="25.5" y1="910.85" x2="28.9" y2="910.85" stroke-width="1.35"/>
<line x1="25.5" y1="907.20" x2="28.9" y2="907.20" stroke-width="1.35"/>
<line x1="25.5" y1="903.54" x2="28.9" y2="903.54" stroke-width="1.35"/>
<line x1="25.5" y1="899.89" x2="28.9" y2="899.89" stroke-width="1.35"/>
<line x1="23.099999999999998" y1="896.24" x2="28.9" y2="896.24" stroke-width="1.4"/>
<line x1="25.5" y1="892.59" x2="28.9" y2="892.59" stroke-width="1.35"/>
<line x1="25.5" y1="888.94" x2="28.9" y2="888.94" stroke-width="1.35"/>
<line x1="25.5" y1="885.28" x2="28.9" y2="885.28" stroke-width="1.35"/>
<line x1="25.5" y1="881.63" x2="28.9" y2="881.63" stroke-width="1.35"/>
<line x1="23.099999999999998" y1="877.98" x2="28.9" y2="877.98" stroke-width="1.4"/>
<line x1="25.5" y1="874.33" x2="28.9" y2="874.33" stroke-width="1.35"/>
<line x1="25.5" y1="870.68" x2="28.9" y2="870.68" stroke-width="1.35"/>
<line x1="25.5" y1="867.02" x2="28.9" y2="867.02" stroke-width="1.35"/>
<line x1="25.5" y1="863.37" x2="28.9" y2="863.37" stroke-width="1.35"/>
<line x1="23.099999999999998" y1="859.72" x2="28.9" y2="859.72" stroke-width="1.4"/>
<line x1="25.5" y1="856.07" x2="28.9" y2="856.07" stroke-width="1.35"/>
<line x1="25.5" y1="852.42" x2="28.9" y2="852.42" stroke-width="1.35"/>
<line x1="25.5" y1="848.76" x2="28.9" y2="848.76" stroke-width="1.35"/>
<line x1="25.5" y1="845.11" x2="28.9" y2="845.11" stroke-width="1.35"/>
<line x1="23.099999999999998" y1="841.46" x2="28.9" y2="841.46" stroke-width="1.4"/>
<line x1="25.5" y1="837.81" x2="28.9" y2="837.81" stroke-width="1.35"/>
<line x1="25.5" y1="834.16" x2="28.9" y2="834.16" stroke-width="1.35"/>
<line x1="25.5" y1="830.50" x2="28.9" y2="830.50" stroke-width="1.35"/>
<line x1="25.5" y1="826.85" x2="28.9" y2="826.85" stroke-width="1.35"/>
<line x1="23.099999999999998" y1="823.20" x2="28.9" y2="823.20" stroke-width="1.4"/>
<line x1="29.00" y1="914.5" x2="29.00" y2="920.8" stroke-width="1.3"/>
<line x1="37.82" y1="914.5" x2="37.82" y2="918.9" stroke-width="1.1"/>
<line x1="46.64" y1="914.5" x2="46.64" y2="918.9" stroke-width="1.1"/>
<line x1="55.46" y1="914.5" x2="55.46" y2="918.9" stroke-width="1.1"/>
<line x1="64.28" y1="914.5" x2="64.28" y2="918.9" stroke-width="1.1"/>
<line x1="73.10" y1="914.5" x2="73.10" y2="920.8" stroke-width="1.3"/>
<line x1="81.92" y1="914.5" x2="81.92" y2="918.9" stroke-width="1.1"/>
<line x1="90.74" y1="914.5" x2="90.74" y2="918.9" stroke-width="1.1"/>
<line x1="99.56" y1="914.5" x2="99.56" y2="918.9" stroke-width="1.1"/>
<line x1="108.38" y1="914.5" x2="108.38" y2="918.9" stroke-width="1.1"/>
<line x1="117.20" y1="914.5" x2="117.20" y2="920.8" stroke-width="1.3"/>
<line x1="126.02" y1="914.5" x2="126.02" y2="918.9" stroke-width="1.1"/>
<line x1="134.84" y1="914.5" x2="134.84" y2="918.9" stroke-width="1.1"/>
<line x1="30.6" y1="860.0" x2="120.0" y2="860.0" stroke-width="1.3"/>
<line x1="67.4" y1="854.3" x2="67.4" y2="866.0" stroke-width="1.3"/>
<line x1="79.4" y1="854.3" x2="79.4" y2="866.0" stroke-width="1.3"/>
<line x1="105.9" y1="854.3" x2="105.9" y2="866.0" stroke-width="1.3"/>
<line x1="120.0" y1="854.3" x2="120.0" y2="866.0" stroke-width="1.3"/>
</g>
<text x="40.79" y="855.20" font-family="Liberation Sans" font-weight="bold" font-size="9.75" textLength="10.00" lengthAdjust="spacingAndGlyphs" fill="#000">M</text><text x="50.83" y="857.20" font-family="Liberation Sans" font-weight="bold" font-size="6.84" textLength="4.18" lengthAdjust="spacingAndGlyphs" fill="#000">1</text>
<text x="69.59" y="840.50" font-family="Liberation Sans" font-weight="bold" font-size="9.75" textLength="10.00" lengthAdjust="spacingAndGlyphs" fill="#000">M</text><text x="79.84" y="842.50" font-family="Liberation Sans" font-weight="bold" font-size="6.74" textLength="4.12" lengthAdjust="spacingAndGlyphs" fill="#000">2</text>
<text x="83.89" y="856.70" font-family="Liberation Sans" font-weight="bold" font-size="9.75" textLength="10.00" lengthAdjust="spacingAndGlyphs" fill="#000">M</text><text x="94.24" y="858.62" font-family="Liberation Sans" font-weight="bold" font-size="6.62" textLength="4.05" lengthAdjust="spacingAndGlyphs" fill="#000">3</text>
<text x="105.49" y="850.70" font-family="Liberation Sans" font-weight="bold" font-size="9.75" textLength="10.00" lengthAdjust="spacingAndGlyphs" fill="#000">M</text><text x="115.89" y="852.70" font-family="Liberation Sans" font-weight="bold" font-size="6.84" textLength="4.18" lengthAdjust="spacingAndGlyphs" fill="#000">4</text>
<text transform="translate(11.39,904.75) rotate(-90)" x="0" y="0" font-family="Liberation Sans" font-weight="bold" font-size="11.02" textLength="65.61" lengthAdjust="spacingAndGlyphs" fill="#000">Cell number</text>
<text stroke="#000" stroke-width="0.3" transform="translate(19.40,833.53) rotate(-90)" x="0" y="0" font-family="Liberation Sans" font-weight="normal" font-size="9.75" textLength="17.64" lengthAdjust="spacingAndGlyphs" fill="#000">200</text>
<text stroke="#000" stroke-width="0.3" transform="translate(19.41,919.08) rotate(-90)" x="0" y="0" font-family="Liberation Sans" font-weight="normal" font-size="8.90" textLength="6.64" lengthAdjust="spacingAndGlyphs" fill="#000">0</text>
<text x="26.25" y="932.10" font-family="Liberation Sans" font-weight="normal" font-size="10.46" textLength="6.29" lengthAdjust="spacingAndGlyphs" fill="#000" stroke="#000" stroke-width="0.25">0</text>
<text x="64.28" y="932.10" font-family="Liberation Sans" font-weight="normal" font-size="10.46" textLength="17.32" lengthAdjust="spacingAndGlyphs" fill="#000" stroke="#000" stroke-width="0.25">200</text>
<text x="108.66" y="932.10" font-family="Liberation Sans" font-weight="normal" font-size="10.46" textLength="17.65" lengthAdjust="spacingAndGlyphs" fill="#000" stroke="#000" stroke-width="0.25">400</text>
<text x="149.46" y="839.10" font-family="Liberation Sans" font-weight="normal" font-size="12.65" textLength="11.48" lengthAdjust="spacingAndGlyphs" fill="#111" stroke="#111" stroke-width="0.3">M</text><text x="161.39" y="841.50" font-family="Liberation Sans" font-weight="normal" font-size="7.71" textLength="4.50" lengthAdjust="spacingAndGlyphs" fill="#333">1</text><text stroke="#111" stroke-width="0.3" x="173.30" y="839.10" font-family="Liberation Sans" font-weight="normal" font-size="11.90" text-anchor="start" fill="#111">83.9</text><text x="149.46" y="851.50" font-family="Liberation Sans" font-weight="normal" font-size="12.65" textLength="11.48" lengthAdjust="spacingAndGlyphs" fill="#111" stroke="#111" stroke-width="0.3">M</text><text x="161.60" y="853.90" font-family="Liberation Sans" font-weight="normal" font-size="7.60" textLength="4.44" lengthAdjust="spacingAndGlyphs" fill="#333">2</text><text stroke="#111" stroke-width="0.3" x="173.30" y="851.50" font-family="Liberation Sans" font-weight="normal" font-size="11.90" text-anchor="start" fill="#111">15.7</text><text x="149.46" y="863.50" font-family="Liberation Sans" font-weight="normal" font-size="12.65" textLength="11.48" lengthAdjust="spacingAndGlyphs" fill="#111" stroke="#111" stroke-width="0.3">M</text><text x="161.71" y="865.83" font-family="Liberation Sans" font-weight="normal" font-size="7.49" textLength="4.37" lengthAdjust="spacingAndGlyphs" fill="#333">3</text><text stroke="#111" stroke-width="0.3" x="173.30" y="863.50" font-family="Liberation Sans" font-weight="normal" font-size="11.90" text-anchor="start" fill="#111">0.1</text><text x="149.46" y="875.70" font-family="Liberation Sans" font-weight="normal" font-size="12.65" textLength="11.48" lengthAdjust="spacingAndGlyphs" fill="#111" stroke="#111" stroke-width="0.3">M</text><text x="161.82" y="878.10" font-family="Liberation Sans" font-weight="normal" font-size="7.71" textLength="4.50" lengthAdjust="spacingAndGlyphs" fill="#333">4</text><text stroke="#111" stroke-width="0.3" x="173.30" y="875.70" font-family="Liberation Sans" font-weight="normal" font-size="11.90" text-anchor="start" fill="#111">0.3</text>
<polygon points="260.4,913.0 260.4,857.0 262.0,857.0 262.0,830.0 263.0,826.0 264.4,824.0 266.4,824.0 266.9,825.0 267.9,837.8 269.9,853.7 270.9,869.6 271.8,879.5 272.8,889.4 274.3,899.3 276.8,906.2 280.8,909.2 284.7,910.2 290.0,910.8 366.5,910.8 366.5,913.0" fill="#575757" stroke="#111" stroke-width="1.1" stroke-linejoin="miter"/>
<rect x="261.2" y="822.3" width="0.7" height="34.7" fill="#fff"/>
<g stroke="#111" fill="none">
<line x1="260.1" y1="822.0" x2="366.5" y2="822.0" stroke-width="1.4"/>
<line x1="366.5" y1="821.4" x2="366.5" y2="912.7" stroke-width="1.4"/>
<line x1="260.1" y1="821.4" x2="260.1" y2="913.5" stroke-width="1.9"/>
<line x1="254.8" y1="912.7" x2="367.1" y2="912.7" stroke-width="1.8"/>
<line x1="254.3" y1="912.70" x2="260.1" y2="912.70" stroke-width="1.4"/>
<line x1="256.70000000000005" y1="909.07" x2="260.1" y2="909.07" stroke-width="1.35"/>
<line x1="256.70000000000005" y1="905.44" x2="260.1" y2="905.44" stroke-width="1.35"/>
<line x1="256.70000000000005" y1="901.82" x2="260.1" y2="901.82" stroke-width="1.35"/>
<line x1="256.70000000000005" y1="898.19" x2="260.1" y2="898.19" stroke-width="1.35"/>
<line x1="254.3" y1="894.56" x2="260.1" y2="894.56" stroke-width="1.4"/>
<line x1="256.70000000000005" y1="890.93" x2="260.1" y2="890.93" stroke-width="1.35"/>
<line x1="256.70000000000005" y1="887.30" x2="260.1" y2="887.30" stroke-width="1.35"/>
<line x1="256.70000000000005" y1="883.68" x2="260.1" y2="883.68" stroke-width="1.35"/>
<line x1="256.70000000000005" y1="880.05" x2="260.1" y2="880.05" stroke-width="1.35"/>
<line x1="254.3" y1="876.42" x2="260.1" y2="876.42" stroke-width="1.4"/>
<line x1="256.70000000000005" y1="872.79" x2="260.1" y2="872.79" stroke-width="1.35"/>
<line x1="256.70000000000005" y1="869.16" x2="260.1" y2="869.16" stroke-width="1.35"/>
<line x1="256.70000000000005" y1="865.54" x2="260.1" y2="865.54" stroke-width="1.35"/>
<line x1="256.70000000000005" y1="861.91" x2="260.1" y2="861.91" stroke-width="1.35"/>
<line x1="254.3" y1="858.28" x2="260.1" y2="858.28" stroke-width="1.4"/>
<line x1="256.70000000000005" y1="854.65" x2="260.1" y2="854.65" stroke-width="1.35"/>
<line x1="256.70000000000005" y1="851.02" x2="260.1" y2="851.02" stroke-width="1.35"/>
<line x1="256.70000000000005" y1="847.40" x2="260.1" y2="847.40" stroke-width="1.35"/>
<line x1="256.70000000000005" y1="843.77" x2="260.1" y2="843.77" stroke-width="1.35"/>
<line x1="254.3" y1="840.14" x2="260.1" y2="840.14" stroke-width="1.4"/>
<line x1="256.70000000000005" y1="836.51" x2="260.1" y2="836.51" stroke-width="1.35"/>
<line x1="256.70000000000005" y1="832.88" x2="260.1" y2="832.88" stroke-width="1.35"/>
<line x1="256.70000000000005" y1="829.26" x2="260.1" y2="829.26" stroke-width="1.35"/>
<line x1="256.70000000000005" y1="825.63" x2="260.1" y2="825.63" stroke-width="1.35"/>
<line x1="254.3" y1="822.00" x2="260.1" y2="822.00" stroke-width="1.4"/>
<line x1="260.50" y1="912.7" x2="260.50" y2="919.0" stroke-width="1.3"/>
<line x1="269.30" y1="912.7" x2="269.30" y2="917.1" stroke-width="1.1"/>
<line x1="278.10" y1="912.7" x2="278.10" y2="917.1" stroke-width="1.1"/>
<line x1="286.90" y1="912.7" x2="286.90" y2="917.1" stroke-width="1.1"/>
<line x1="295.70" y1="912.7" x2="295.70" y2="917.1" stroke-width="1.1"/>
<line x1="304.50" y1="912.7" x2="304.50" y2="919.0" stroke-width="1.3"/>
<line x1="313.30" y1="912.7" x2="313.30" y2="917.1" stroke-width="1.1"/>
<line x1="322.10" y1="912.7" x2="322.10" y2="917.1" stroke-width="1.1"/>
<line x1="330.90" y1="912.7" x2="330.90" y2="917.1" stroke-width="1.1"/>
<line x1="339.70" y1="912.7" x2="339.70" y2="917.1" stroke-width="1.1"/>
<line x1="348.50" y1="912.7" x2="348.50" y2="919.0" stroke-width="1.3"/>
<line x1="357.30" y1="912.7" x2="357.30" y2="917.1" stroke-width="1.1"/>
<line x1="366.10" y1="912.7" x2="366.10" y2="917.1" stroke-width="1.1"/>
<line x1="261.5" y1="857.4" x2="350.4" y2="857.4" stroke-width="1.3"/>
<line x1="297.9" y1="851.6999999999999" x2="297.9" y2="863.4" stroke-width="1.3"/>
<line x1="310.0" y1="851.6999999999999" x2="310.0" y2="863.4" stroke-width="1.3"/>
<line x1="336.4" y1="851.6999999999999" x2="336.4" y2="863.4" stroke-width="1.3"/>
<line x1="350.4" y1="851.6999999999999" x2="350.4" y2="863.4" stroke-width="1.3"/>
</g>
<text x="275.49" y="853.00" font-family="Liberation Sans" font-weight="bold" font-size="9.75" textLength="10.00" lengthAdjust="spacingAndGlyphs" fill="#000">M</text><text x="285.53" y="855.00" font-family="Liberation Sans" font-weight="bold" font-size="6.84" textLength="4.18" lengthAdjust="spacingAndGlyphs" fill="#000">1</text>
<text x="297.89" y="844.80" font-family="Liberation Sans" font-weight="bold" font-size="9.75" textLength="10.00" lengthAdjust="spacingAndGlyphs" fill="#000">M</text><text x="308.14" y="846.80" font-family="Liberation Sans" font-weight="bold" font-size="6.74" textLength="4.12" lengthAdjust="spacingAndGlyphs" fill="#000">2</text>
<text x="315.39" y="853.00" font-family="Liberation Sans" font-weight="bold" font-size="9.75" textLength="10.00" lengthAdjust="spacingAndGlyphs" fill="#000">M</text><text x="325.74" y="854.92" font-family="Liberation Sans" font-weight="bold" font-size="6.62" textLength="4.05" lengthAdjust="spacingAndGlyphs" fill="#000">3</text>
<text x="336.19" y="844.30" font-family="Liberation Sans" font-weight="bold" font-size="9.75" textLength="10.00" lengthAdjust="spacingAndGlyphs" fill="#000">M</text><text x="346.59" y="846.30" font-family="Liberation Sans" font-weight="bold" font-size="6.84" textLength="4.18" lengthAdjust="spacingAndGlyphs" fill="#000">4</text>
<text transform="translate(236.29,902.75) rotate(-90)" x="0" y="0" font-family="Liberation Sans" font-weight="bold" font-size="11.02" textLength="65.61" lengthAdjust="spacingAndGlyphs" fill="#000">Cell number</text>
<text stroke="#000" stroke-width="0.3" transform="translate(250.10,830.93) rotate(-90)" x="0" y="0" font-family="Liberation Sans" font-weight="normal" font-size="9.75" textLength="17.64" lengthAdjust="spacingAndGlyphs" fill="#000">200</text>
<text stroke="#000" stroke-width="0.3" transform="translate(250.11,917.08) rotate(-90)" x="0" y="0" font-family="Liberation Sans" font-weight="normal" font-size="9.05" textLength="6.64" lengthAdjust="spacingAndGlyphs" fill="#000">0</text>
<text x="257.65" y="930.10" font-family="Liberation Sans" font-weight="normal" font-size="9.89" textLength="6.29" lengthAdjust="spacingAndGlyphs" fill="#000" stroke="#000" stroke-width="0.25">0</text>
<text x="295.27" y="930.10" font-family="Liberation Sans" font-weight="normal" font-size="9.89" textLength="17.74" lengthAdjust="spacingAndGlyphs" fill="#000" stroke="#000" stroke-width="0.25">200</text>
<text x="339.96" y="930.10" font-family="Liberation Sans" font-weight="normal" font-size="9.89" textLength="17.44" lengthAdjust="spacingAndGlyphs" fill="#000" stroke="#000" stroke-width="0.25">400</text>
<text x="381.36" y="839.10" font-family="Liberation Sans" font-weight="normal" font-size="12.65" textLength="11.48" lengthAdjust="spacingAndGlyphs" fill="#111" stroke="#111" stroke-width="0.3">M</text><text x="393.29" y="841.50" font-family="Liberation Sans" font-weight="normal" font-size="7.71" textLength="4.50" lengthAdjust="spacingAndGlyphs" fill="#333">1</text><text stroke="#111" stroke-width="0.3" x="404.90" y="839.10" font-family="Liberation Sans" font-weight="normal" font-size="11.90" text-anchor="start" fill="#111">99.7</text><text x="381.36" y="850.70" font-family="Liberation Sans" font-weight="normal" font-size="12.65" textLength="11.48" lengthAdjust="spacingAndGlyphs" fill="#111" stroke="#111" stroke-width="0.3">M</text><text x="393.50" y="853.10" font-family="Liberation Sans" font-weight="normal" font-size="7.60" textLength="4.44" lengthAdjust="spacingAndGlyphs" fill="#333">2</text><text stroke="#111" stroke-width="0.3" x="404.90" y="850.70" font-family="Liberation Sans" font-weight="normal" font-size="11.90" text-anchor="start" fill="#111">0.2</text><text x="381.36" y="862.80" font-family="Liberation Sans" font-weight="normal" font-size="12.65" textLength="11.48" lengthAdjust="spacingAndGlyphs" fill="#111" stroke="#111" stroke-width="0.3">M</text><text x="393.61" y="865.13" font-family="Liberation Sans" font-weight="normal" font-size="7.49" textLength="4.37" lengthAdjust="spacingAndGlyphs" fill="#333">3</text><text stroke="#111" stroke-width="0.3" x="404.90" y="862.80" font-family="Liberation Sans" font-weight="normal" font-size="11.90" text-anchor="start" fill="#111">0.1</text><text x="381.36" y="875.00" font-family="Liberation Sans" font-weight="normal" font-size="12.65" textLength="11.48" lengthAdjust="spacingAndGlyphs" fill="#111" stroke="#111" stroke-width="0.3">M</text><text x="393.72" y="877.40" font-family="Liberation Sans" font-weight="normal" font-size="7.71" textLength="4.50" lengthAdjust="spacingAndGlyphs" fill="#333">4</text><text stroke="#111" stroke-width="0.3" x="404.90" y="875.00" font-family="Liberation Sans" font-weight="normal" font-size="11.90" text-anchor="start" fill="#111">0.0</text>
</svg>
</body></html>
